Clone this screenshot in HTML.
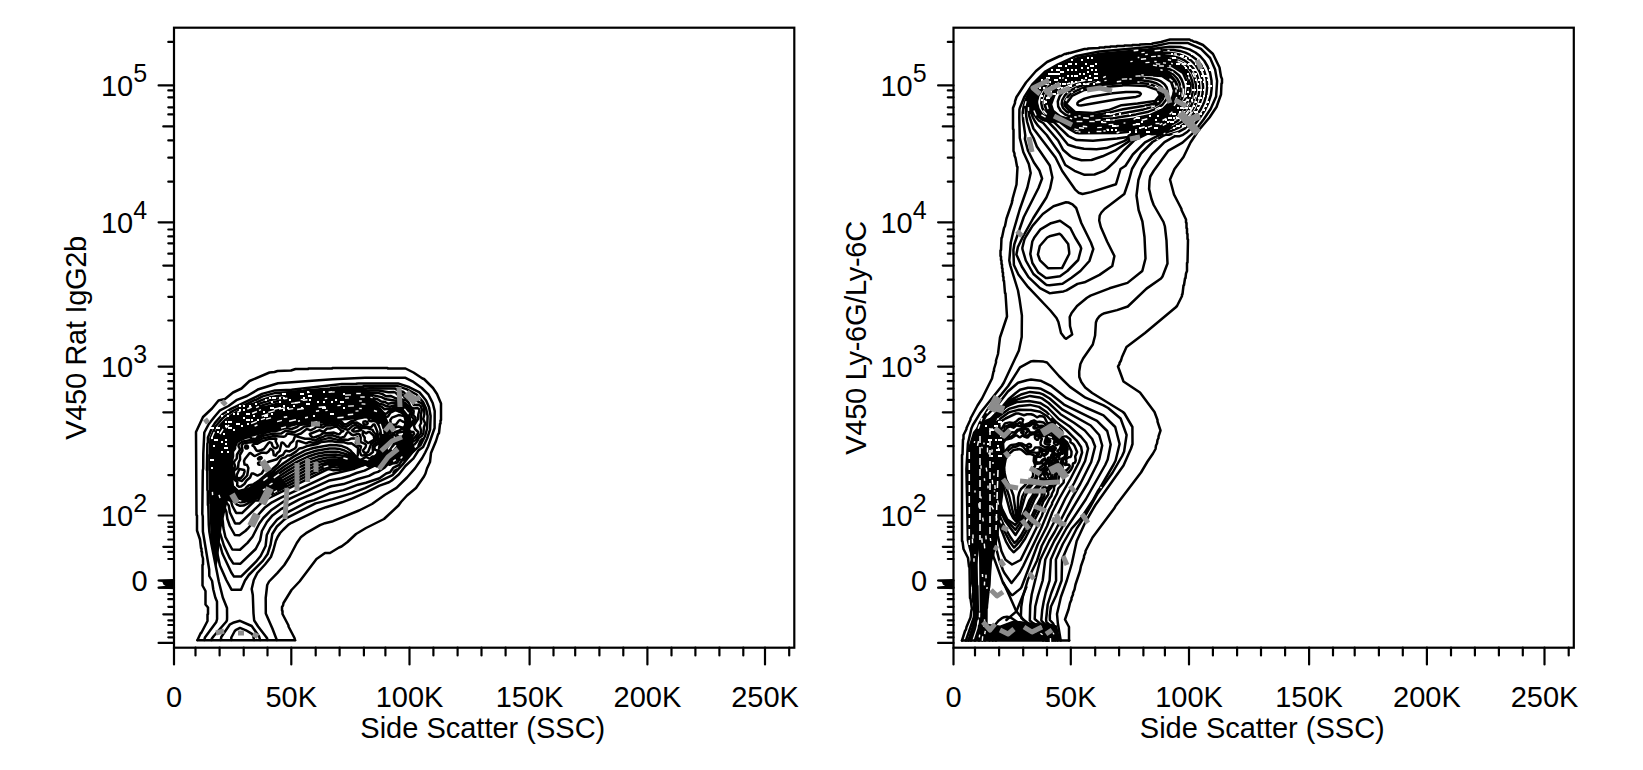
<!DOCTYPE html>
<html><head><meta charset="utf-8"><title>Flow cytometry contour plots</title>
<style>
html,body{margin:0;padding:0;background:#fff;}
body{width:1643px;height:770px;overflow:hidden;}
svg{display:block;}
.t text{font-family:"Liberation Sans",sans-serif;font-size:29px;fill:#000;}
.t text.sup{font-size:25px;}
.c path{fill:none;stroke:#000;stroke-width:2.5;stroke-linejoin:round;stroke-linecap:round;}
.g path{fill:none;stroke:#8c8c8c;stroke-width:5;stroke-linecap:butt;stroke-linejoin:round;}
.wd path{fill:none;stroke:#fff;stroke-width:1.5;stroke-dasharray:7 4;}
.wdot path{fill:none;stroke:#fff;stroke-width:2;stroke-linecap:butt;}
.w path{fill:none;stroke:#fff;stroke-width:1.4;stroke-linecap:butt;}
</style></head><body>
<svg width="1643" height="770" viewBox="0 0 1643 770">
<rect width="1643" height="770" fill="#fff"/>
<g id="left">
<path d="M250.5 503.1 L248.5 503.1 L242.5 500.8 L239.5 500.8 L233.0 502.2 L230.5 500.4 L227.0 498.9 L211.5 498.2 L210.3 497.0 L209.3 456.0 L210.4 440.5 L212.1 438.5 L212.4 435.0 L214.0 431.8 L218.5 429.2 L222.5 422.8 L226.0 421.1 L227.7 419.5 L230.3 414.5 L234.0 412.6 L238.5 408.9 L251.5 402.8 L256.5 402.9 L261.5 405.6 L264.0 406.2 L271.0 406.2 L276.5 404.6 L280.5 402.2 L283.6 398.5 L284.1 394.5 L283.5 393.4 L280.9 392.5 L282.0 392.3 L326.5 388.3 L351.5 387.2 L353.5 386.3 L363.5 386.9 L369.7 391.5 L374.1 398.0 L377.6 404.5 L380.9 415.5 L384.9 424.5 L387.3 427.0 L390.1 428.5 L390.7 430.0 L390.6 432.5 L388.4 435.5 L387.8 440.0 L389.8 444.0 L393.0 445.7 L395.0 444.7 L396.3 442.5 L401.7 437.5 L403.1 435.5 L404.7 427.0 L404.7 421.5 L403.6 416.5 L401.0 413.4 L395.4 411.5 L394.8 410.0 L395.4 408.0 L398.0 405.9 L401.5 405.8 L404.5 406.9 L407.1 409.5 L410.1 415.5 L410.7 418.0 L410.3 429.5 L413.1 437.0 L413.3 443.5 L414.6 447.0 L414.6 449.0 L404.0 460.1 L402.5 460.7 L397.0 460.4 L382.5 467.1 L379.5 465.9 L377.0 465.8 L369.5 468.2 L366.0 465.8 L349.5 469.7 L341.0 470.2 L339.3 469.0 L337.2 466.0 L335.5 465.3 L330.5 468.1 L327.5 468.4 L323.0 469.7 L321.4 469.5 L321.4 466.5 L322.5 464.3 L325.0 461.9 L327.5 460.8 L335.5 461.1 L343.5 455.4 L350.0 452.4 L352.5 451.8 L354.0 452.4 L359.0 458.6 L367.5 461.2 L371.2 459.0 L375.7 455.0 L377.1 452.0 L380.2 438.0 L379.1 429.5 L377.6 424.5 L376.0 422.3 L372.0 419.9 L366.5 417.8 L363.0 417.8 L347.0 420.2 L321.5 421.8 L299.0 424.8 L245.5 438.4 L239.0 441.4 L236.9 443.5 L233.4 451.5 L231.8 467.5 L232.9 483.0 L233.9 486.0 L236.0 488.6 L238.5 490.2 L241.5 490.2 L245.5 489.1 L256.5 482.6 L269.0 473.4 L274.5 470.3 L287.1 485.5 L285.7 487.5 L280.5 490.6 L263.5 499.6 L259.5 498.9 L257.0 499.4 L250.5 503.1 Z M209.5 488.0 L231.0 488.0 L226.0 508.0 L221.5 528.0 L219.5 545.0 L218.0 560.0 L216.3 567.0 L213.8 556.0 L210.6 540.0 L209.6 512.0 Z" fill="#000" fill-rule="nonzero"/>
<g class="c">
<path d="M197.5 640.0 L200.5 633.5 L201.5 632.5 L207.5 621.0 L207.5 614.5 L208.0 614.0 L208.0 607.5 L205.5 604.5 L205.5 591.0 L202.5 585.5 L202.5 565.0 L203.0 564.5 L203.0 558.5 L202.0 555.0 L202.0 552.0 L201.5 551.5 L201.5 548.5 L201.0 548.0 L200.0 539.5 L197.0 530.5 L197.0 515.5 L196.5 515.0 L196.0 432.0 L203.0 417.0 L212.0 408.5 L218.5 400.5 L225.0 399.0 L233.0 392.5 L241.5 388.5 L249.5 381.0 L269.5 372.5 L274.5 372.0 L277.5 371.0 L291.0 370.5 L295.5 369.0 L308.0 369.0 L308.5 368.5 L332.0 368.5 L332.5 368.0 L387.5 368.0 L388.0 368.5 L405.5 368.5 L413.5 372.5 L422.5 378.5 L424.0 379.0 L433.0 388.0 L437.0 394.0 L441.0 403.5 L441.0 420.0 L440.5 420.5 L440.5 423.5 L440.0 424.0 L439.0 433.0 L438.0 434.5 L436.0 441.0 L431.0 453.0 L430.0 462.0 L427.0 468.5 L425.5 473.5 L424.0 476.5 L416.0 488.0 L407.0 495.5 L401.0 502.0 L398.5 505.5 L384.0 519.0 L366.0 528.0 L356.0 534.0 L347.5 542.0 L341.5 546.5 L339.0 547.5 L330.0 553.0 L325.0 553.0 L316.5 559.0 L299.5 581.5 L291.5 590.0 L283.5 603.0 L283.0 605.5 L282.0 607.0 L282.0 610.5 L282.5 611.0 L282.5 614.0 L288.5 625.5 L288.5 626.5 L294.5 638.0 L295.0 640.0"/>
<path d="M204.4 640.0 L204.9 637.5 L216.3 622.0 L217.1 619.0 L217.0 601.5 L215.3 597.5 L213.3 589.5 L212.1 581.0 L209.3 576.0 L209.2 569.5 L202.9 531.5 L202.8 516.5 L202.3 514.0 L202.8 470.5 L203.2 468.5 L203.3 453.5 L204.3 432.5 L208.8 424.0 L214.5 416.7 L220.0 410.3 L228.5 406.0 L237.0 399.8 L247.0 396.0 L258.5 389.2 L278.0 383.2 L332.5 379.2 L365.0 377.7 L405.5 377.8 L412.5 381.3 L421.8 388.0 L428.5 394.7 L432.7 403.0 L434.7 411.0 L434.6 428.0 L428.1 446.5 L425.2 452.5 L422.2 458.0 L415.0 468.4 L407.0 477.5 L396.5 487.9 L385.0 494.8 L372.0 504.0 L359.0 510.5 L333.0 521.2 L325.0 523.2 L320.0 525.1 L306.0 533.2 L301.0 536.9 L296.8 543.0 L289.7 556.5 L284.3 565.0 L277.5 572.9 L269.1 581.5 L267.2 585.0 L265.7 598.0 L265.8 613.5 L272.4 628.5 L276.8 640.0"/>
<path d="M211.4 640.0 L211.9 638.5 L214.0 635.8 L226.4 621.5 L227.0 620.0 L227.1 617.0 L227.0 608.0 L222.8 597.5 L218.8 581.5 L211.3 543.5 L209.3 531.5 L208.8 525.0 L208.3 506.0 L207.9 505.0 L207.8 491.0 L207.4 490.0 L207.3 471.0 L206.9 470.0 L207.4 443.5 L207.9 442.5 L207.9 437.5 L211.9 428.0 L215.0 422.8 L222.8 414.0 L231.0 408.9 L262.0 393.9 L275.0 390.4 L291.5 389.7 L342.0 383.9 L356.0 383.8 L358.5 383.4 L398.0 383.4 L409.5 387.3 L419.5 392.4 L426.1 400.5 L429.1 407.5 L430.6 416.0 L430.1 429.5 L427.1 438.5 L423.1 447.0 L418.4 450.5 L413.5 458.3 L405.4 466.0 L399.0 474.3 L391.8 480.5 L389.0 482.2 L379.5 485.6 L366.0 492.4 L352.5 498.3 L342.0 502.3 L326.0 507.2 L318.0 510.2 L291.5 522.8 L288.5 524.6 L283.4 529.5 L280.1 533.0 L277.6 537.0 L275.8 541.0 L273.4 550.0 L270.9 557.0 L265.0 564.5 L257.3 573.0 L253.8 580.0 L251.7 589.0 L252.8 595.0 L253.5 613.5 L254.2 620.5 L258.1 626.5 L266.2 637.0 L267.2 638.5 L267.2 640.0"/>
<path d="M241.0 589.7 L231.5 589.7 L226.3 580.0 L219.9 565.5 L217.8 555.5 L214.4 545.0 L212.4 531.5 L210.9 504.5 L210.4 503.5 L209.9 471.0 L209.4 470.0 L209.4 455.0 L209.9 454.0 L210.4 438.5 L215.4 426.5 L222.0 418.9 L224.5 416.4 L233.0 410.9 L255.0 399.9 L256.0 399.9 L262.5 396.4 L275.5 392.9 L292.5 391.9 L293.0 391.5 L303.5 390.9 L304.0 390.4 L330.5 388.4 L331.0 387.9 L341.0 387.3 L341.5 386.9 L363.0 386.4 L364.0 385.9 L397.0 385.9 L407.0 389.4 L416.6 394.5 L423.1 402.0 L426.1 408.5 L427.6 416.0 L427.1 428.5 L425.1 436.0 L420.5 445.1 L412.7 452.0 L402.5 464.6 L392.5 475.1 L365.0 488.1 L352.0 493.1 L332.5 499.1 L315.5 503.4 L287.0 517.8 L283.5 520.3 L276.9 526.5 L272.3 534.0 L270.6 544.5 L267.6 554.0 L263.0 560.6 L248.8 575.0 L245.0 580.5 L241.0 589.7 Z"/>
<path d="M418.5 445.5 L420.3 444.0 L422.5 438.9 L420.4 441.0 L418.5 445.5 Z"/>
<path d="M404.7 460.5 L409.0 456.0 L408.7 455.5 L412.5 452.0 L414.4 449.0 L412.0 447.9 L410.3 448.5 L409.5 453.5 L405.0 459.0 L404.2 460.5 L404.7 460.5 Z"/>
<path d="M393.5 472.5 L394.5 471.7 L396.6 469.5 L394.8 470.5 L393.5 472.5 Z"/>
<path d="M220.8 640.0 L221.3 637.0 L230.0 624.3 L233.0 622.8 L240.0 620.8 L251.7 626.0 L259.1 636.5 L260.1 640.0"/>
<path d="M241.0 576.6 L234.0 576.6 L231.3 572.5 L222.4 553.5 L220.2 545.5 L218.4 542.0 L216.1 529.0 L211.8 486.0 L211.1 463.5 L211.9 447.0 L213.2 439.0 L216.4 431.0 L219.5 425.9 L224.9 420.0 L233.5 413.8 L243.5 408.5 L261.5 400.1 L270.5 397.3 L281.5 395.2 L338.0 389.8 L370.0 388.2 L395.0 388.6 L399.0 390.8 L403.5 392.0 L407.5 396.1 L413.5 397.3 L416.5 400.7 L422.0 403.7 L424.1 408.0 L424.4 414.0 L423.2 419.0 L425.2 423.5 L423.9 427.5 L423.4 433.5 L422.0 435.7 L418.9 438.0 L417.1 441.5 L414.5 444.3 L410.5 446.0 L408.2 448.0 L407.0 452.8 L399.0 465.0 L393.5 467.6 L390.0 472.3 L386.2 473.5 L379.5 478.3 L366.0 482.7 L358.0 484.7 L343.5 490.1 L329.5 493.3 L314.0 500.1 L306.5 502.3 L285.0 513.7 L277.0 519.7 L270.3 528.0 L266.8 535.0 L265.6 546.0 L260.6 556.0 L256.0 561.7 L241.0 576.6 Z"/>
<path d="M231.3 640.0 L231.3 637.5 L234.8 631.0 L236.0 629.8 L240.0 627.9 L246.0 630.3 L252.0 633.9 L253.1 635.5 L254.1 640.0"/>
<path d="M240.5 563.7 L233.5 563.6 L233.0 563.2 L229.4 557.5 L223.9 545.5 L219.9 532.5 L218.1 512.0 L213.6 485.5 L212.7 461.0 L214.6 442.5 L216.4 436.5 L219.4 430.5 L223.0 425.6 L227.5 421.0 L235.5 415.4 L246.5 409.6 L261.0 403.1 L271.5 399.8 L279.0 398.2 L289.0 396.9 L342.0 391.8 L370.5 390.5 L378.5 390.6 L388.5 392.2 L394.0 392.1 L395.5 392.7 L398.0 395.0 L401.0 394.3 L402.5 394.6 L404.7 397.5 L409.8 399.5 L412.0 400.9 L414.0 405.1 L418.5 404.8 L420.7 406.0 L421.9 409.5 L420.7 416.0 L421.1 423.0 L419.7 425.5 L421.1 430.5 L420.8 433.5 L417.4 437.0 L415.8 440.0 L412.9 441.5 L405.8 448.5 L402.9 453.0 L401.2 457.0 L397.5 462.3 L396.0 463.1 L392.2 463.5 L389.5 464.8 L388.0 463.9 L384.8 467.5 L378.0 471.9 L374.5 472.9 L369.0 475.9 L358.0 479.0 L343.5 484.1 L331.5 486.3 L327.0 487.8 L299.5 499.3 L281.5 508.8 L272.5 515.4 L266.9 522.0 L261.9 531.0 L260.1 540.5 L255.7 549.0 L240.5 563.7 Z"/>
<path d="M240.0 549.7 L232.3 549.5 L225.4 537.0 L223.4 528.0 L222.8 521.0 L221.9 517.5 L221.8 511.5 L216.8 493.5 L214.9 480.5 L214.4 459.5 L215.3 449.5 L216.7 442.5 L218.8 436.5 L221.8 431.0 L225.7 426.0 L230.7 421.5 L239.0 416.0 L250.5 410.3 L263.0 405.1 L273.5 402.0 L282.5 400.2 L296.5 398.4 L343.5 394.0 L364.0 393.4 L369.5 392.6 L379.0 393.1 L382.5 394.1 L386.0 396.2 L390.5 395.9 L396.5 398.6 L401.0 399.1 L406.3 400.5 L408.6 402.5 L410.5 406.5 L411.5 407.6 L413.5 408.4 L417.5 408.1 L419.0 409.0 L419.4 410.5 L418.3 414.5 L418.0 419.0 L413.8 425.5 L415.0 429.0 L418.2 432.0 L417.9 433.5 L414.5 437.8 L412.0 439.8 L408.6 444.5 L402.9 449.0 L396.3 460.5 L387.5 463.1 L382.0 466.7 L378.6 467.0 L375.0 465.5 L364.5 470.6 L356.5 473.0 L350.0 475.7 L341.5 478.2 L329.5 480.4 L284.0 501.3 L271.0 510.3 L263.3 518.0 L259.3 523.5 L252.5 536.8 L247.5 542.9 L240.0 549.7 Z"/>
<path d="M239.5 535.2 L234.8 535.0 L229.8 526.0 L227.4 519.0 L226.3 511.5 L220.5 498.0 L218.5 491.9 L216.9 484.0 L216.1 474.0 L216.3 456.0 L217.4 447.5 L219.2 441.0 L221.6 435.5 L224.8 430.5 L229.0 425.9 L234.0 421.8 L242.0 416.9 L253.5 411.5 L265.0 407.1 L275.5 404.1 L286.0 402.1 L301.0 400.2 L344.5 396.2 L365.0 395.8 L371.0 394.8 L381.5 397.1 L386.0 399.3 L396.0 400.7 L400.5 400.6 L406.0 403.6 L409.5 407.9 L413.7 411.0 L413.3 415.0 L415.5 417.5 L415.5 420.0 L414.4 422.0 L409.1 428.0 L408.7 429.5 L409.5 431.1 L411.0 431.8 L413.4 432.0 L414.1 433.5 L407.8 444.0 L401.2 448.0 L397.6 452.0 L396.8 456.0 L394.5 459.0 L390.0 460.6 L382.5 464.6 L380.0 464.5 L378.0 463.6 L372.0 466.0 L369.5 466.5 L367.3 465.5 L367.1 464.5 L368.0 463.5 L367.5 463.5 L354.5 468.7 L329.5 474.8 L281.0 497.7 L272.0 502.3 L264.5 507.8 L254.9 518.5 L251.7 524.0 L248.5 527.8 L245.3 531.0 L239.5 535.2 Z"/>
<path d="M239.5 523.6 L235.5 523.6 L234.9 523.0 L229.9 512.5 L228.7 505.5 L224.1 499.5 L221.3 494.0 L218.5 483.5 L217.4 469.5 L218.3 453.0 L219.6 446.0 L221.5 440.2 L224.2 435.0 L227.5 430.5 L232.0 426.1 L237.0 422.4 L245.5 417.6 L256.5 412.8 L267.0 409.0 L277.5 406.2 L304.0 402.1 L344.0 398.5 L365.5 398.2 L370.5 397.4 L377.5 399.3 L381.0 401.4 L385.0 402.0 L388.0 403.8 L392.0 403.0 L395.5 403.1 L400.0 402.1 L405.5 405.2 L408.1 408.5 L411.3 411.0 L411.8 412.5 L411.6 416.5 L413.6 419.0 L413.8 420.0 L410.0 424.6 L407.9 428.5 L408.0 430.7 L410.5 435.0 L410.2 437.5 L406.5 443.9 L398.7 447.0 L395.9 451.0 L394.7 455.5 L392.5 457.6 L383.0 462.7 L377.5 463.1 L371.5 465.3 L369.0 465.1 L368.2 463.5 L367.5 463.4 L355.5 466.9 L340.0 469.7 L333.5 470.2 L329.0 469.0 L327.5 469.4 L264.0 500.4 L239.5 523.6 Z"/>
<path d="M242.0 513.1 L236.5 513.1 L236.0 512.7 L232.4 506.0 L231.0 501.2 L227.5 499.4 L223.8 494.5 L221.8 490.0 L220.4 484.5 L219.0 470.0 L219.8 453.5 L221.1 447.0 L223.2 441.0 L225.8 436.0 L229.5 431.2 L234.0 427.1 L239.5 423.3 L248.0 418.8 L258.5 414.5 L269.0 410.9 L279.5 408.3 L305.5 404.2 L343.0 400.8 L370.0 400.5 L375.5 401.5 L379.5 404.0 L383.0 404.4 L386.0 406.1 L390.0 406.8 L399.5 404.0 L404.5 406.4 L407.5 410.0 L410.2 412.0 L409.4 416.5 L410.3 421.0 L406.9 429.0 L408.8 436.0 L407.1 439.0 L406.2 442.5 L404.7 443.5 L397.5 445.6 L392.5 454.5 L383.1 461.0 L371.0 464.6 L369.5 464.5 L367.5 463.2 L353.0 466.1 L337.0 467.4 L329.5 466.7 L326.0 467.6 L305.0 477.1 L260.5 499.7 L258.0 500.5 L255.0 500.5 L242.0 513.1 Z"/>
<path d="M243.5 505.6 L240.0 505.8 L237.0 504.7 L232.0 499.5 L228.2 497.0 L226.0 494.4 L223.7 490.0 L222.1 485.0 L220.5 471.5 L220.5 462.5 L221.3 454.5 L222.5 448.0 L224.6 442.0 L227.3 437.0 L230.9 432.5 L235.0 428.8 L240.5 425.1 L248.0 421.2 L257.0 417.5 L276.5 411.4 L297.5 407.5 L326.5 404.3 L344.5 403.0 L363.5 402.4 L375.0 404.0 L381.5 406.8 L384.5 409.3 L387.5 408.7 L391.5 408.9 L396.0 406.1 L399.0 405.8 L403.5 407.9 L405.6 410.5 L406.3 412.5 L406.5 416.0 L408.2 421.0 L407.7 424.5 L406.1 429.0 L407.4 433.5 L407.3 435.5 L405.3 438.0 L404.0 441.5 L396.5 444.7 L390.1 454.0 L384.5 457.3 L381.6 460.0 L371.0 463.9 L367.5 463.1 L355.0 464.8 L330.0 464.7 L323.6 466.0 L303.5 474.8 L262.0 496.5 L255.0 498.4 L247.5 503.7 L243.5 505.6 Z"/>
<path d="M244.5 502.0 L240.5 502.3 L237.0 501.2 L230.5 496.5 L227.5 493.4 L225.3 489.5 L223.6 484.5 L222.0 471.5 L222.0 463.0 L222.8 455.0 L224.1 448.5 L226.0 443.0 L228.7 438.0 L232.0 433.9 L236.0 430.4 L241.5 426.8 L257.0 419.8 L276.5 413.9 L296.5 410.0 L322.5 406.9 L343.0 405.3 L362.0 404.5 L378.0 407.6 L380.0 408.9 L383.5 412.9 L385.5 413.9 L386.5 413.6 L389.0 411.1 L393.5 409.8 L396.0 407.8 L397.5 407.2 L399.0 407.6 L400.8 409.5 L404.0 411.5 L404.9 418.0 L406.4 423.0 L405.1 429.0 L406.5 433.5 L406.3 435.0 L402.5 439.3 L395.1 444.5 L389.2 452.5 L384.0 455.6 L379.1 460.0 L370.5 463.4 L367.5 463.0 L356.5 463.9 L332.0 462.3 L327.0 462.7 L321.5 464.1 L313.5 467.0 L303.5 471.6 L264.0 493.2 L254.5 497.1 L244.5 502.0 Z"/>
<path d="M244.5 499.5 L240.5 499.7 L237.0 498.7 L231.9 495.5 L228.5 492.0 L226.3 488.0 L224.9 483.5 L223.4 470.5 L224.3 455.0 L225.5 449.0 L227.5 443.5 L230.0 439.0 L233.0 435.3 L237.0 431.8 L242.5 428.4 L258.0 421.8 L277.5 416.0 L297.0 412.2 L322.0 409.2 L360.5 406.5 L377.5 409.4 L380.0 411.1 L384.5 415.7 L387.0 417.0 L388.0 416.5 L390.5 412.5 L396.5 409.7 L397.5 409.7 L399.5 411.7 L402.7 413.0 L403.3 415.0 L403.0 415.9 L399.5 415.1 L398.0 415.3 L392.0 417.6 L390.3 420.0 L390.6 422.5 L392.0 425.1 L396.0 424.4 L399.0 420.5 L400.0 420.0 L403.0 421.8 L404.5 422.1 L405.1 423.0 L405.2 425.0 L404.0 427.3 L402.5 427.7 L398.5 426.5 L392.0 428.2 L391.5 430.0 L392.7 434.0 L392.5 438.5 L393.3 439.5 L394.5 439.9 L396.9 439.0 L396.9 437.5 L394.5 434.5 L394.2 433.0 L395.1 432.0 L399.0 430.7 L402.0 428.7 L404.0 429.4 L405.5 433.0 L405.4 434.5 L402.0 438.2 L393.7 444.0 L389.0 450.4 L385.0 452.9 L379.5 458.5 L377.4 460.0 L372.0 462.5 L369.5 463.0 L357.0 463.0 L344.0 460.6 L335.0 459.8 L327.5 460.2 L320.0 461.8 L312.0 464.6 L302.5 469.0 L263.0 491.4 L248.5 498.2 L244.5 499.5 Z"/>
<path d="M244.0 497.5 L240.0 497.6 L236.0 496.3 L232.0 493.6 L229.3 490.5 L227.3 486.5 L226.0 482.0 L224.8 468.5 L226.0 453.5 L227.4 448.0 L229.4 443.0 L231.8 439.0 L235.0 435.6 L239.0 432.6 L244.0 429.7 L253.0 425.9 L265.5 421.7 L278.0 418.3 L291.0 415.5 L318.5 411.7 L358.0 408.6 L373.5 410.2 L378.5 411.7 L380.5 413.1 L385.6 418.5 L387.1 422.0 L389.6 425.0 L390.1 426.5 L389.5 429.5 L391.0 435.5 L390.9 437.5 L390.0 439.2 L386.5 440.9 L385.7 442.5 L387.0 443.7 L390.3 444.0 L390.0 446.5 L388.5 448.3 L385.0 450.5 L378.5 458.2 L372.8 461.5 L369.0 462.7 L358.5 462.4 L344.0 458.4 L335.0 457.2 L327.0 457.6 L319.0 459.2 L310.5 462.1 L301.0 466.5 L289.5 472.9 L261.5 490.0 L249.5 495.8 L244.0 497.5 Z"/>
<path d="M400.5 437.5 L399.1 437.0 L397.5 435.5 L396.9 433.5 L398.5 432.5 L403.5 431.5 L404.4 433.0 L404.4 434.0 L403.0 436.1 L400.5 437.5 Z"/>
<path d="M244.5 495.6 L240.5 495.9 L237.0 495.1 L233.5 493.0 L230.6 490.0 L228.9 487.0 L227.6 483.0 L226.2 471.5 L227.0 456.5 L228.0 451.0 L229.6 446.0 L231.6 442.0 L234.1 438.5 L237.5 435.6 L242.0 432.7 L257.0 426.7 L280.0 420.2 L299.5 416.3 L324.0 413.4 L358.0 410.8 L366.0 410.8 L373.0 411.9 L379.0 413.5 L384.7 419.5 L387.5 426.0 L387.1 431.0 L389.3 436.5 L388.6 438.0 L385.5 440.1 L384.3 442.0 L384.8 444.0 L386.8 446.5 L384.0 449.0 L381.9 453.0 L378.1 457.5 L372.5 461.0 L368.0 462.5 L358.5 461.8 L345.0 456.3 L336.0 454.6 L327.0 454.8 L317.5 456.6 L308.5 459.7 L298.5 464.5 L287.0 471.2 L261.0 488.1 L250.5 493.5 L244.5 495.6 Z"/>
<path d="M244.0 494.0 L240.0 494.3 L237.0 493.7 L234.0 491.8 L231.5 489.0 L229.8 486.0 L228.9 482.5 L227.6 471.0 L228.5 456.0 L230.9 446.5 L232.8 442.5 L235.0 439.6 L242.0 434.6 L256.5 429.0 L280.5 422.4 L299.0 418.6 L320.0 416.0 L367.0 412.4 L371.5 413.2 L375.5 415.7 L379.0 415.5 L383.5 419.9 L385.4 428.0 L385.7 434.0 L385.2 438.0 L383.2 441.5 L383.3 446.0 L382.2 448.0 L381.3 452.0 L378.5 456.0 L376.5 457.9 L371.3 461.0 L368.0 462.4 L358.5 461.1 L355.8 460.0 L346.5 454.3 L337.5 451.8 L328.0 451.7 L316.5 453.8 L307.0 457.0 L297.0 461.9 L285.5 468.9 L259.9 486.5 L250.0 491.9 L244.0 494.0 Z"/>
<path d="M240.0 493.0 L237.5 492.6 L235.5 491.5 L233.0 489.1 L231.3 486.5 L229.5 478.0 L228.9 467.5 L230.1 454.0 L232.5 446.0 L236.0 440.3 L242.5 436.1 L257.5 430.9 L284.0 423.9 L300.5 420.6 L322.5 417.9 L347.5 416.2 L368.0 414.0 L371.0 414.7 L374.5 417.6 L379.0 418.0 L382.3 422.5 L382.8 426.5 L383.9 429.5 L384.0 432.5 L382.6 436.5 L381.8 444.0 L380.7 447.5 L380.4 451.5 L377.0 456.5 L368.6 462.0 L367.5 462.2 L358.0 460.3 L348.5 452.5 L344.5 450.5 L340.0 449.1 L335.0 448.5 L329.5 448.5 L316.0 450.7 L306.5 453.7 L297.0 458.3 L284.5 466.2 L264.6 481.0 L256.3 486.5 L247.0 491.6 L240.0 493.0 Z"/>
<path d="M241.5 491.6 L237.4 491.5 L232.4 486.5 L230.8 478.0 L230.2 468.5 L231.3 455.0 L232.0 451.0 L233.7 446.5 L236.5 441.3 L243.0 437.6 L249.5 435.2 L267.5 430.3 L298.5 423.1 L323.5 419.9 L352.5 417.9 L366.0 415.5 L369.5 416.0 L373.0 418.8 L377.0 420.3 L380.7 425.0 L382.5 429.1 L382.8 431.5 L382.5 433.0 L380.5 436.0 L380.8 442.0 L379.2 447.5 L379.0 452.0 L376.5 455.9 L368.3 462.0 L358.0 459.6 L350.5 450.5 L346.5 447.8 L342.0 446.1 L336.5 445.2 L330.5 445.1 L313.5 448.0 L305.0 450.6 L294.0 456.4 L282.0 464.4 L258.0 483.3 L247.5 489.7 L241.5 491.6 Z"/>
<path d="M239.0 491.0 L237.9 491.0 L232.8 486.0 L231.3 471.5 L232.3 466.5 L231.9 461.5 L233.1 456.0 L232.9 451.5 L235.1 448.5 L235.1 446.5 L237.0 442.2 L241.0 439.8 L245.5 437.9 L249.5 437.0 L251.8 438.5 L255.0 439.1 L256.2 438.5 L258.2 436.0 L261.0 435.2 L265.5 432.8 L271.5 431.3 L275.0 431.2 L285.5 428.0 L291.6 429.0 L297.0 427.0 L299.4 425.0 L302.5 424.4 L323.0 421.9 L328.5 422.0 L338.5 420.7 L341.0 421.1 L343.5 423.9 L346.0 424.5 L351.0 421.3 L354.2 420.5 L357.0 418.9 L365.5 417.0 L367.5 417.4 L369.5 418.9 L368.8 420.0 L369.5 421.0 L371.5 421.3 L373.5 420.8 L376.5 421.7 L381.1 429.0 L381.1 432.0 L378.4 435.0 L377.8 436.5 L379.6 440.5 L379.0 443.5 L375.5 445.3 L374.3 447.5 L375.0 449.9 L377.5 450.5 L377.7 451.0 L377.3 454.0 L375.0 456.2 L372.5 456.6 L370.0 458.4 L369.0 458.5 L367.0 457.3 L365.5 457.1 L361.0 459.9 L358.0 459.1 L357.0 457.0 L357.8 455.0 L358.1 448.0 L351.5 443.3 L347.5 443.4 L344.0 442.2 L336.5 442.0 L331.0 441.1 L321.5 441.9 L317.0 444.1 L307.0 446.1 L302.0 448.1 L299.5 448.4 L296.0 451.6 L291.0 454.9 L289.5 455.5 L287.5 455.6 L285.0 457.4 L281.5 458.6 L277.7 464.5 L259.8 480.0 L253.0 484.6 L249.0 485.2 L246.7 487.0 L244.8 489.5 L239.0 491.0 Z"/>
<path d="M366.8 424.5 L367.7 423.5 L367.4 422.0 L365.5 421.3 L363.5 421.7 L363.3 423.0 L364.0 424.1 L365.0 424.6 L366.8 424.5 Z"/>
<path d="M241.0 486.6 L239.0 486.8 L237.2 485.5 L237.3 482.0 L234.0 479.2 L233.0 477.5 L232.5 471.5 L233.0 469.5 L235.2 466.5 L234.0 463.0 L234.2 461.5 L236.7 458.5 L237.0 454.5 L239.9 450.0 L239.7 448.5 L238.5 446.3 L238.5 445.0 L239.7 443.5 L243.0 441.4 L249.5 440.2 L256.0 440.6 L259.5 437.5 L264.0 435.6 L272.5 433.7 L281.0 433.6 L285.5 430.8 L294.5 432.2 L300.0 429.5 L304.6 426.5 L309.5 425.9 L313.5 424.3 L321.5 424.7 L325.0 423.9 L338.5 422.7 L340.0 423.2 L343.0 426.0 L346.0 426.7 L347.5 426.2 L352.0 423.1 L356.5 422.4 L363.0 426.1 L370.0 427.4 L371.3 427.0 L373.5 424.4 L374.5 424.5 L377.5 432.0 L376.6 437.0 L377.9 441.0 L377.0 442.4 L373.4 444.5 L372.6 447.5 L373.0 452.0 L369.5 454.8 L362.0 455.6 L361.0 454.9 L359.8 451.5 L361.0 446.5 L357.4 445.0 L355.9 443.0 L356.0 441.5 L358.0 439.0 L358.1 438.0 L357.5 437.3 L354.5 438.5 L351.0 438.6 L347.5 440.1 L344.0 439.4 L339.0 440.1 L331.0 438.2 L328.5 438.1 L320.5 440.1 L315.5 442.7 L313.0 442.8 L309.0 442.1 L306.0 443.4 L299.0 441.0 L297.5 440.9 L296.7 442.0 L296.3 446.5 L294.9 448.5 L289.5 451.4 L286.0 450.8 L285.0 451.6 L283.0 454.9 L279.5 456.4 L277.0 459.2 L268.5 461.7 L264.5 464.3 L263.4 466.5 L264.1 469.5 L261.7 473.5 L257.5 475.6 L253.5 473.6 L251.7 473.5 L250.1 477.5 L246.6 480.5 L244.4 484.0 L241.0 486.6 Z"/>
<path d="M260.1 459.5 L261.7 458.0 L261.0 456.9 L259.5 457.2 L258.0 458.5 L258.4 459.5 L260.1 459.5 Z"/>
<path d="M242.0 481.0 L238.0 479.8 L236.0 478.5 L234.7 476.5 L233.8 472.0 L234.5 470.1 L237.2 468.5 L238.1 467.0 L238.6 462.5 L240.1 459.5 L239.9 455.0 L242.5 450.5 L241.7 445.5 L242.8 444.0 L244.5 443.0 L257.0 441.7 L260.5 439.4 L263.5 438.2 L274.0 436.0 L283.5 436.8 L285.5 436.1 L286.9 434.0 L288.0 433.5 L296.0 435.1 L301.0 433.5 L307.0 428.8 L310.5 430.3 L315.2 428.0 L316.0 426.6 L322.5 427.6 L326.0 425.5 L330.5 425.4 L335.5 424.5 L338.5 424.9 L342.0 427.9 L347.5 429.7 L349.0 429.2 L352.5 425.9 L354.5 425.3 L357.0 425.3 L362.5 428.1 L366.5 427.9 L372.5 429.9 L373.5 431.9 L375.5 434.0 L376.0 440.5 L371.3 443.5 L368.1 452.0 L366.0 453.2 L364.1 452.5 L362.9 450.5 L365.5 447.3 L366.0 445.0 L365.0 443.8 L360.5 442.0 L360.7 437.5 L359.6 434.5 L358.5 433.7 L353.0 435.2 L351.5 434.5 L349.5 432.6 L348.0 432.1 L347.0 432.6 L344.5 436.6 L340.5 438.0 L332.5 435.2 L326.0 435.4 L323.0 437.0 L319.0 438.2 L315.0 440.6 L309.5 438.7 L305.0 438.7 L295.5 436.1 L294.7 437.0 L293.2 441.0 L290.5 443.2 L288.5 446.6 L286.5 446.5 L283.5 443.0 L282.5 442.5 L281.5 442.7 L279.7 451.0 L277.3 453.0 L275.5 455.7 L273.7 455.0 L273.2 451.0 L272.0 449.6 L270.5 448.8 L268.5 451.5 L266.5 453.1 L261.5 452.6 L255.0 456.0 L254.0 455.8 L250.5 453.0 L249.5 453.2 L244.9 459.0 L244.0 461.0 L244.5 464.5 L247.0 465.0 L248.4 468.0 L247.2 475.5 L242.0 481.0 Z"/>
<path d="M260.0 464.7 L258.5 464.5 L258.0 463.0 L259.0 462.4 L260.0 462.6 L260.5 463.5 L260.0 464.7 Z"/>
<path d="M315.5 437.0 L314.0 437.5 L312.5 437.2 L310.9 436.0 L309.7 434.0 L319.5 430.1 L323.5 432.0 L327.0 428.5 L330.5 428.4 L335.5 426.6 L337.5 427.0 L341.0 430.4 L343.4 431.0 L341.5 431.8 L339.6 434.0 L338.5 434.4 L333.5 432.5 L327.0 433.2 L323.5 432.9 L320.5 435.1 L315.5 437.0 Z"/>
<path d="M356.0 431.5 L353.5 431.5 L352.0 430.5 L355.0 427.9 L357.0 427.2 L358.5 427.7 L361.3 430.0 L356.0 431.5 Z"/>
<path d="M369.0 442.6 L368.0 443.0 L364.7 440.5 L364.7 437.5 L362.6 434.5 L363.0 431.3 L366.0 433.3 L368.5 431.9 L369.5 431.9 L373.6 435.5 L374.4 439.5 L369.0 442.6 Z"/>
<path d="M260.0 450.6 L258.0 451.0 L256.5 450.5 L254.0 446.5 L252.5 445.7 L252.7 445.0 L254.5 443.5 L257.5 443.7 L261.5 441.4 L269.5 438.9 L275.0 438.5 L276.3 439.0 L275.6 441.0 L277.9 446.0 L277.0 447.7 L275.5 448.3 L274.0 447.8 L272.5 446.0 L271.5 442.9 L269.5 442.3 L268.4 443.0 L263.9 449.0 L260.0 450.6 Z"/>
<path d="M247.0 448.6 L246.0 448.6 L245.0 447.5 L245.5 445.5 L246.9 445.5 L247.9 446.5 L248.0 447.8 L247.0 448.6 Z"/>
<path d="M238.5 478.5 L237.0 477.5 L236.7 475.0 L239.5 469.0 L244.2 470.0 L244.6 471.5 L243.5 475.0 L241.0 477.8 L238.5 478.5 Z"/>
<path d="M197.5 640.3 L295.0 640.3"/>
</g>
<g class="wdot"><path d="M247.0 424.0 L249.0 424.0"/><path d="M246.0 414.0 L250.0 414.0"/><path d="M239.0 410.0 L241.0 410.0"/><path d="M228.0 422.0 L232.0 422.0"/><path d="M214.0 440.0 L218.0 440.0"/><path d="M210.0 428.0 L214.0 428.0"/><path d="M225.0 440.0 L227.0 440.0"/><path d="M223.0 434.0 L225.0 434.0"/><path d="M236.0 424.0 L240.0 424.0"/><path d="M227.0 416.0 L229.0 416.0"/><path d="M221.0 442.0 L223.0 442.0"/><path d="M283.0 410.0 L285.0 410.0"/><path d="M217.0 432.0 L219.0 432.0"/><path d="M287.0 408.0 L289.0 408.0"/><path d="M251.0 420.0 L253.0 420.0"/><path d="M255.0 404.0 L257.0 404.0"/><path d="M243.0 410.0 L245.0 410.0"/><path d="M243.0 406.0 L245.0 406.0"/><path d="M233.0 430.0 L235.0 430.0"/><path d="M227.0 412.0 L229.0 412.0"/><path d="M264.0 416.0 L268.0 416.0"/><path d="M239.0 406.0 L241.0 406.0"/><path d="M272.0 398.0 L276.0 398.0"/><path d="M225.0 422.0 L227.0 422.0"/><path d="M225.0 426.0 L227.0 426.0"/><path d="M253.0 416.0 L255.0 416.0"/><path d="M233.0 414.0 L235.0 414.0"/><path d="M283.0 406.0 L285.0 406.0"/><path d="M271.0 402.0 L273.0 402.0"/><path d="M243.0 418.0 L245.0 418.0"/><path d="M283.0 398.0 L285.0 398.0"/><path d="M293.0 406.0 L295.0 406.0"/><path d="M263.0 412.0 L265.0 412.0"/><path d="M224.0 448.0 L228.0 448.0"/><path d="M279.0 408.0 L281.0 408.0"/><path d="M228.0 428.0 L232.0 428.0"/><path d="M265.0 400.0 L267.0 400.0"/><path d="M211.0 468.0 L213.0 468.0"/><path d="M271.0 414.0 L273.0 414.0"/><path d="M257.0 420.0 L259.0 420.0"/><path d="M289.0 400.0 L291.0 400.0"/><path d="M221.0 452.0 L223.0 452.0"/><path d="M213.0 446.0 L215.0 446.0"/><path d="M282.0 394.0 L286.0 394.0"/><path d="M216.0 428.0 L220.0 428.0"/><path d="M225.0 444.0 L227.0 444.0"/><path d="M269.0 398.0 L271.0 398.0"/><path d="M221.0 416.0 L223.0 416.0"/><path d="M279.0 398.0 L281.0 398.0"/><path d="M237.0 414.0 L239.0 414.0"/><path d="M210.0 460.0 L214.0 460.0"/><path d="M249.0 406.0 L251.0 406.0"/><path d="M211.0 438.0 L213.0 438.0"/><path d="M227.0 452.0 L229.0 452.0"/><path d="M241.0 426.0 L243.0 426.0"/><path d="M279.0 402.0 L281.0 402.0"/><path d="M246.0 420.0 L250.0 420.0"/><path d="M270.0 408.0 L274.0 408.0"/><path d="M323.0 392.0 L325.0 392.0"/><path d="M309.0 400.0 L311.0 400.0"/><path d="M303.0 398.0 L305.0 398.0"/><path d="M301.0 408.0 L303.0 408.0"/><path d="M343.0 408.0 L345.0 408.0"/><path d="M335.0 400.0 L337.0 400.0"/><path d="M340.0 402.0 L344.0 402.0"/><path d="M306.0 404.0 L310.0 404.0"/><path d="M330.0 414.0 L334.0 414.0"/><path d="M308.0 396.0 L312.0 396.0"/><path d="M317.0 402.0 L319.0 402.0"/><path d="M323.0 402.0 L325.0 402.0"/><path d="M343.0 394.0 L345.0 394.0"/><path d="M331.0 402.0 L333.0 402.0"/><path d="M300.0 394.0 L304.0 394.0"/><path d="M307.0 392.0 L309.0 392.0"/><path d="M322.0 408.0 L326.0 408.0"/><path d="M313.0 416.0 L315.0 416.0"/></g>
<g class="w"><path d="M372.6 397.6 L370.4 397.4"/><path d="M348.9 397.9 L345.1 398.1"/><path d="M309.7 392.4 L307.3 392.6"/><path d="M350.9 394.9 L345.1 395.1"/><path d="M364.7 397.0 L360.3 397.0"/><path d="M327.2 398.4 L324.8 398.6"/><path d="M377.0 411.5 L374.0 410.5"/><path d="M303.3 399.4 L300.7 399.6"/><path d="M400.6 458.4 L402.4 456.6"/><path d="M286.0 426.9 L281.0 428.1"/><path d="M229.1 424.9 L225.9 428.1"/><path d="M300.0 420.8 L298.0 421.2"/><path d="M319.1 410.8 L315.9 411.2"/><path d="M256.9 421.4 L251.1 423.6"/><path d="M325.4 406.7 L318.6 407.3"/><path d="M388.1 449.3 L391.9 443.7"/><path d="M261.0 409.6 L259.0 410.4"/><path d="M381.8 429.1 L380.2 423.9"/><path d="M382.9 434.0 L382.1 429.0"/><path d="M307.4 399.7 L302.6 400.3"/><path d="M293.2 408.6 L287.8 409.4"/><path d="M280.2 407.8 L273.8 409.2"/><path d="M219.0 494.9 L220.0 498.1"/><path d="M273.8 477.9 L279.2 474.1"/><path d="M251.7 407.0 L247.3 409.0"/><path d="M303.9 408.5 L297.1 409.5"/><path d="M257.4 425.0 L254.6 426.0"/><path d="M323.7 467.2 L328.3 465.8"/><path d="M308.0 417.3 L305.0 417.7"/><path d="M392.7 454.2 L394.3 452.8"/><path d="M287.3 398.3 L283.7 398.7"/><path d="M393.2 461.4 L395.8 459.6"/><path d="M287.2 416.7 L283.8 417.3"/><path d="M274.7 410.6 L268.3 412.4"/><path d="M300.1 402.2 L294.9 402.8"/><path d="M269.5 484.9 L272.5 483.1"/><path d="M285.0 407.9 L279.0 409.1"/><path d="M353.2 414.3 L347.8 414.7"/><path d="M358.5 410.9 L355.5 411.1"/><path d="M343.6 417.3 L337.4 417.7"/><path d="M212.4 491.9 L212.6 495.1"/><path d="M268.7 496.6 L271.3 495.4"/><path d="M263.4 480.6 L267.6 477.4"/><path d="M408.6 414.1 L404.4 408.9"/><path d="M262.9 490.1 L265.1 488.9"/><path d="M295.9 419.8 L289.1 421.2"/><path d="M361.8 401.0 L359.2 401.0"/><path d="M353.9 405.9 L348.1 406.1"/><path d="M365.4 404.1 L361.6 403.9"/><path d="M240.6 410.7 L237.4 412.3"/><path d="M343.4 458.0 L347.6 459.0"/><path d="M392.0 449.7 L396.0 445.3"/><path d="M265.0 418.3 L261.0 419.7"/><path d="M360.8 393.5 L356.2 393.5"/><path d="M327.6 410.4 L325.4 410.6"/><path d="M268.3 413.9 L261.7 416.1"/><path d="M256.9 411.5 L252.1 413.5"/><path d="M258.9 406.4 L256.1 407.6"/><path d="M281.9 420.4 L277.1 421.6"/><path d="M273.9 492.3 L277.1 490.7"/><path d="M236.7 499.9 L241.3 501.1"/><path d="M297.9 402.6 L291.1 403.4"/><path d="M340.6 405.4 L337.4 405.6"/><path d="M334.7 391.9 L332.3 392.1"/><path d="M271.0 417.8 L266.0 419.2"/><path d="M361.8 408.5 L359.2 408.5"/><path d="M317.3 421.8 L311.7 423.2"/><path d="M214.3 432.0 L211.7 438.0"/><path d="M223.1 429.0 L219.9 434.0"/><path d="M332.4 391.8 L328.6 392.2"/></g>
<g class="g"><path d="M205.0 419.0 L208.0 423.0"/><path d="M222.0 401.0 L226.0 405.0"/><path d="M251.0 526.0 L257.0 514.0" style="stroke-width:8"/><path d="M262.0 504.0 L270.0 488.0" style="stroke-width:8"/><path d="M262.0 461.0 L269.0 471.0" style="stroke-width:7"/><path d="M232.0 494.0 L237.0 503.0" style="stroke-width:6"/><path d="M285.0 519.0 L287.0 488.0"/><path d="M297.0 491.0 L297.0 463.0"/><path d="M307.6 482.0 L307.6 459.0"/><path d="M316.0 472.0 L316.0 462.0"/><path d="M311.0 424.0 L320.0 424.0"/><path d="M399.0 387.0 L400.0 407.0"/><path d="M406.0 393.0 L416.0 402.0" style="stroke-width:8"/><path d="M412.0 401.0 L420.0 397.0"/><path d="M385.0 431.0 L390.0 425.0 L394.0 431.0"/><path d="M381.0 451.0 L392.0 441.0 L402.0 437.0"/><path d="M379.0 469.0 L388.0 457.0 L398.0 449.0"/><path d="M357.0 437.0 L358.0 445.0"/><path d="M216.0 633.0 L224.0 631.0"/><path d="M238.0 633.0 L244.0 633.0"/><path d="M253.0 634.0 L258.0 636.5"/></g>
<g stroke="#000" stroke-width="2.2" stroke-linecap="round" fill="none">
<rect x="174.0" y="27.7" width="620.3" height="620.0"/>
<line x1="158.6" y1="85.4" x2="174.0" y2="85.4"/>
<line x1="158.6" y1="222.3" x2="174.0" y2="222.3"/>
<line x1="158.6" y1="366.6" x2="174.0" y2="366.6"/>
<line x1="158.6" y1="515.5" x2="174.0" y2="515.5"/>
<line x1="158.6" y1="580.5" x2="174.0" y2="580.5"/>
<line x1="158.6" y1="587.7" x2="174.0" y2="587.7"/>
<line x1="158.6" y1="642.9" x2="174.0" y2="642.9"/>
<line x1="163.3" y1="126.4" x2="174.0" y2="126.4"/>
<line x1="163.3" y1="265.6" x2="174.0" y2="265.6"/>
<line x1="163.3" y1="412.3" x2="174.0" y2="412.3"/>
<line x1="163.3" y1="546.8" x2="174.0" y2="546.8"/>
<line x1="163.3" y1="614.3" x2="174.0" y2="614.3"/>
<line x1="168.3" y1="41.9" x2="174.0" y2="41.9"/>
<line x1="168.3" y1="90.4" x2="174.0" y2="90.4"/>
<line x1="168.3" y1="97.3" x2="174.0" y2="97.3"/>
<line x1="168.3" y1="107.3" x2="174.0" y2="107.3"/>
<line x1="168.3" y1="114.4" x2="174.0" y2="114.4"/>
<line x1="168.3" y1="140.4" x2="174.0" y2="140.4"/>
<line x1="168.3" y1="157.7" x2="174.0" y2="157.7"/>
<line x1="168.3" y1="181.7" x2="174.0" y2="181.7"/>
<line x1="168.3" y1="229.5" x2="174.0" y2="229.5"/>
<line x1="168.3" y1="236.4" x2="174.0" y2="236.4"/>
<line x1="168.3" y1="243.3" x2="174.0" y2="243.3"/>
<line x1="168.3" y1="253.7" x2="174.0" y2="253.7"/>
<line x1="168.3" y1="279.7" x2="174.0" y2="279.7"/>
<line x1="168.3" y1="296.8" x2="174.0" y2="296.8"/>
<line x1="168.3" y1="320.5" x2="174.0" y2="320.5"/>
<line x1="168.3" y1="373.8" x2="174.0" y2="373.8"/>
<line x1="168.3" y1="381.2" x2="174.0" y2="381.2"/>
<line x1="168.3" y1="388.7" x2="174.0" y2="388.7"/>
<line x1="168.3" y1="399.8" x2="174.0" y2="399.8"/>
<line x1="168.3" y1="427.0" x2="174.0" y2="427.0"/>
<line x1="168.3" y1="446.1" x2="174.0" y2="446.1"/>
<line x1="168.3" y1="475.1" x2="174.0" y2="475.1"/>
<line x1="168.3" y1="522.3" x2="174.0" y2="522.3"/>
<line x1="168.3" y1="526.8" x2="174.0" y2="526.8"/>
<line x1="168.3" y1="531.8" x2="174.0" y2="531.8"/>
<line x1="168.3" y1="539.5" x2="174.0" y2="539.5"/>
<line x1="168.3" y1="551.9" x2="174.0" y2="551.9"/>
<line x1="168.3" y1="559.0" x2="174.0" y2="559.0"/>
<line x1="168.3" y1="594.1" x2="174.0" y2="594.1"/>
<line x1="168.3" y1="599.2" x2="174.0" y2="599.2"/>
<line x1="168.3" y1="606.8" x2="174.0" y2="606.8"/>
<line x1="168.3" y1="620.3" x2="174.0" y2="620.3"/>
<line x1="168.3" y1="625.0" x2="174.0" y2="625.0"/>
<line x1="168.3" y1="632.7" x2="174.0" y2="632.7"/>
<line x1="168.3" y1="637.3" x2="174.0" y2="637.3"/>
<line x1="174.0" y1="647.7" x2="174.0" y2="664.5"/>
<line x1="195.5" y1="647.7" x2="195.5" y2="655.5"/>
<line x1="219.6" y1="647.7" x2="219.6" y2="655.5"/>
<line x1="243.7" y1="647.7" x2="243.7" y2="655.5"/>
<line x1="267.5" y1="647.7" x2="267.5" y2="655.5"/>
<line x1="291.3" y1="647.7" x2="291.3" y2="664.5"/>
<line x1="315.7" y1="647.7" x2="315.7" y2="655.5"/>
<line x1="339.6" y1="647.7" x2="339.6" y2="655.5"/>
<line x1="363.9" y1="647.7" x2="363.9" y2="655.5"/>
<line x1="385.4" y1="647.7" x2="385.4" y2="655.5"/>
<line x1="409.5" y1="647.7" x2="409.5" y2="664.5"/>
<line x1="433.4" y1="647.7" x2="433.4" y2="655.5"/>
<line x1="457.6" y1="647.7" x2="457.6" y2="655.5"/>
<line x1="481.5" y1="647.7" x2="481.5" y2="655.5"/>
<line x1="505.6" y1="647.7" x2="505.6" y2="655.5"/>
<line x1="529.6" y1="647.7" x2="529.6" y2="664.5"/>
<line x1="553.5" y1="647.7" x2="553.5" y2="655.5"/>
<line x1="575.2" y1="647.7" x2="575.2" y2="655.5"/>
<line x1="599.4" y1="647.7" x2="599.4" y2="655.5"/>
<line x1="623.3" y1="647.7" x2="623.3" y2="655.5"/>
<line x1="647.4" y1="647.7" x2="647.4" y2="664.5"/>
<line x1="671.5" y1="647.7" x2="671.5" y2="655.5"/>
<line x1="695.4" y1="647.7" x2="695.4" y2="655.5"/>
<line x1="719.4" y1="647.7" x2="719.4" y2="655.5"/>
<line x1="743.3" y1="647.7" x2="743.3" y2="655.5"/>
<line x1="765.0" y1="647.7" x2="765.0" y2="664.5"/>
<line x1="789.2" y1="647.7" x2="789.2" y2="655.5"/>
</g>
<path d="M158.6 580.5 L163 581.5 L164 584 L168 586 L158.6 587.7 L174 588.5 L174 579.8 Z" fill="#000" stroke="#000" stroke-width="1.5" stroke-linejoin="round"/>
<g class="t">
<text x="174.0" y="706.6" text-anchor="middle">0</text>
<text x="291.3" y="706.6" text-anchor="middle">50K</text>
<text x="409.5" y="706.6" text-anchor="middle">100K</text>
<text x="529.6" y="706.6" text-anchor="middle">150K</text>
<text x="647.4" y="706.6" text-anchor="middle">200K</text>
<text x="765.0" y="706.6" text-anchor="middle">250K</text>
<text x="482.8" y="737.6" text-anchor="middle">Side Scatter (SSC)</text>
<text x="133.2" y="96.2" text-anchor="end">10</text>
<text class="sup" x="133.2" y="82.0">5</text>
<text x="133.2" y="233.1" text-anchor="end">10</text>
<text class="sup" x="133.2" y="218.9">4</text>
<text x="133.2" y="377.4" text-anchor="end">10</text>
<text class="sup" x="133.2" y="363.2">3</text>
<text x="133.2" y="526.3" text-anchor="end">10</text>
<text class="sup" x="133.2" y="512.1">2</text>
<text x="147.6" y="590.9" text-anchor="end">0</text>
<text transform="translate(86.3,337.8) rotate(-90)" text-anchor="middle" textLength="204" lengthAdjust="spacing">V450 Rat IgG2b</text>
</g>
</g>
<g id="rightc">
<path d="M1130.5 142.1 L1129.5 142.1 L1125.9 139.0 L1126.3 138.0 L1130.1 135.5 L1130.7 132.5 L1130.0 131.4 L1126.5 130.9 L1114.0 132.2 L1082.5 132.2 L1073.0 130.1 L1067.5 127.6 L1059.0 122.4 L1050.0 122.7 L1046.5 120.9 L1042.5 121.1 L1039.0 118.4 L1030.5 114.1 L1023.4 107.5 L1025.9 98.5 L1034.5 84.3 L1044.8 74.0 L1057.5 66.3 L1076.0 58.4 L1086.5 55.9 L1102.0 53.3 L1133.5 50.3 L1145.0 49.7 L1158.5 47.8 L1161.5 47.9 L1163.4 52.0 L1166.0 55.2 L1175.7 61.0 L1180.3 66.0 L1185.2 69.0 L1187.1 72.0 L1187.0 76.9 L1180.5 70.3 L1176.5 67.9 L1170.0 65.8 L1166.9 67.0 L1167.4 69.5 L1168.9 72.0 L1175.6 80.0 L1179.1 88.5 L1180.2 93.0 L1180.3 99.0 L1181.2 102.0 L1180.3 107.0 L1181.6 108.0 L1181.6 111.0 L1179.5 113.6 L1175.0 114.9 L1173.4 116.0 L1171.1 128.5 L1166.0 134.1 L1158.5 136.7 L1154.5 133.4 L1150.0 132.9 L1142.0 135.9 L1130.5 142.1 Z M1119.2 121.0 L1131.0 119.7 L1144.5 116.6 L1152.0 114.1 L1162.2 109.0 L1171.0 100.7 L1173.1 96.0 L1174.2 90.0 L1173.1 85.5 L1171.5 82.3 L1166.0 77.9 L1161.0 75.9 L1155.0 75.3 L1142.0 75.3 L1139.5 75.9 L1138.4 77.5 L1138.4 79.5 L1140.6 82.5 L1140.6 83.5 L1140.0 83.7 L1119.5 84.3 L1099.5 85.8 L1089.0 87.4 L1083.0 89.2 L1081.9 89.0 L1081.9 88.0 L1084.5 85.4 L1090.0 82.9 L1094.5 82.1 L1096.1 80.0 L1094.0 79.3 L1087.0 80.7 L1084.5 80.3 L1078.0 80.8 L1075.0 81.4 L1065.5 85.4 L1060.8 88.0 L1054.9 94.0 L1052.9 97.0 L1051.4 101.0 L1051.4 106.5 L1053.4 110.5 L1061.5 116.1 L1066.0 117.2 L1068.5 117.1 L1069.1 116.5 L1068.1 111.5 L1067.1 109.5 L1063.4 105.5 L1063.4 102.5 L1065.5 100.4 L1066.2 101.0 L1066.4 105.0 L1068.0 107.7 L1074.0 111.6 L1077.5 112.7 L1086.5 113.7 L1102.0 113.4 L1102.7 114.5 L1102.4 120.0 L1104.0 121.1 L1119.2 121.0 Z M1191.6 87.0 L1189.5 89.5 L1188.8 88.5 L1188.3 85.5 L1188.5 80.4 L1190.7 82.0 L1191.7 84.0 L1191.6 87.0 Z M1045.1 114.5 L1045.4 103.5 L1050.4 87.5 L1052.1 84.0 L1052.0 82.9 L1050.5 83.4 L1046.3 86.5 L1043.0 89.8 L1038.9 96.5 L1037.9 100.5 L1037.9 105.0 L1039.9 110.5 L1043.3 114.5 L1045.1 114.5 Z M1156.0 105.1 L1153.5 105.1 L1152.0 103.5 L1157.5 99.7 L1159.6 96.5 L1159.6 92.0 L1156.9 88.5 L1157.5 87.8 L1162.5 92.8 L1163.2 95.5 L1162.1 98.5 L1160.0 101.7 L1156.0 105.1 Z M1186.5 102.6 L1185.4 102.5 L1185.4 100.0 L1187.4 95.5 L1189.0 94.4 L1189.7 96.0 L1189.6 99.0 L1186.5 102.6 Z M984.0 526.1 L981.5 526.1 L978.9 523.0 L978.7 519.5 L976.8 509.0 L976.7 505.0 L975.8 499.5 L975.7 490.0 L974.8 483.0 L974.4 454.0 L976.1 450.0 L979.9 436.0 L983.4 428.5 L988.4 420.0 L1005.5 402.3 L1010.0 398.9 L1013.5 397.5 L1016.0 398.8 L1017.1 400.0 L1017.1 401.0 L1006.0 408.3 L996.4 419.0 L995.9 420.5 L997.5 422.5 L997.2 423.5 L990.9 433.5 L987.1 445.0 L985.4 447.0 L984.4 449.5 L984.3 453.5 L985.2 456.5 L983.8 461.5 L983.7 467.5 L983.1 469.5 L982.5 469.6 L981.0 466.9 L980.8 470.0 L981.8 491.0 L986.2 518.0 L986.1 522.5 L985.1 525.0 L984.0 526.1 Z M973.5 451.2 L973.0 451.4 L972.4 450.5 L972.3 449.0 L976.9 429.0 L983.4 417.0 L986.7 413.5 L978.9 429.5 L973.5 451.2 Z M1055.5 424.6 L1053.0 424.1 L1051.5 422.7 L1049.4 419.0 L1049.0 416.4 L1050.5 416.9 L1053.0 419.3 L1055.6 423.0 L1056.0 424.0 L1055.5 424.6 Z M1063.0 455.1 L1061.5 455.1 L1061.3 454.5 L1061.2 447.5 L1060.1 444.0 L1057.2 441.0 L1051.5 437.6 L1049.9 436.0 L1051.8 433.5 L1056.0 430.9 L1058.0 431.8 L1064.2 438.0 L1067.6 443.5 L1067.6 447.0 L1064.6 453.5 L1063.0 455.1 Z M1002.0 516.1 L996.5 516.1 L993.9 512.5 L992.4 507.5 L989.8 493.0 L987.3 472.0 L986.8 462.5 L987.9 454.0 L990.0 452.4 L996.0 450.4 L996.6 450.5 L996.7 451.5 L995.8 462.5 L995.8 471.0 L996.8 485.5 L1000.4 504.5 L1003.2 514.0 L1003.1 515.5 L1002.0 516.1 Z M1081.0 520.6 L1080.4 520.0 L1081.4 518.0 L1096.9 492.0 L1105.7 480.0 L1105.6 481.5 L1103.1 486.0 L1097.9 494.0 L1085.1 516.0 L1081.0 520.6 Z M1017.0 522.6 L1015.8 521.5 L1016.4 517.5 L1018.4 513.5 L1020.0 513.4 L1021.1 514.5 L1021.1 516.5 L1019.6 520.0 L1017.0 522.6 Z M970.5 640.7 L968.3 640.5 L972.1 628.5 L975.2 615.0 L974.7 587.0 L974.3 585.0 L974.3 579.0 L975.1 578.0 L974.5 577.6 L974.0 578.0 L973.8 576.0 L973.8 571.5 L975.1 569.5 L974.5 567.9 L973.7 568.0 L973.5 568.9 L973.3 567.5 L971.8 549.5 L972.0 545.9 L973.6 550.0 L974.7 557.0 L974.4 562.0 L975.4 566.0 L976.6 567.5 L977.2 569.5 L975.8 574.0 L975.9 575.5 L977.2 578.0 L976.3 581.5 L976.3 584.5 L977.2 587.5 L976.8 599.5 L978.2 606.0 L978.3 611.5 L979.0 612.5 L980.2 610.0 L981.8 587.5 L983.5 581.9 L986.6 582.0 L987.2 593.0 L985.7 623.5 L984.6 630.5 L983.0 633.5 L980.5 632.6 L979.4 631.5 L979.7 620.5 L979.0 618.8 L978.0 618.4 L976.4 621.0 L970.5 640.7 Z M1057.5 640.7 L1044.0 640.7 L1043.2 639.0 L1038.0 635.4 L1028.0 630.2 L1027.9 629.0 L1029.2 625.5 L1028.9 623.0 L1031.5 623.1 L1033.5 621.9 L1036.0 624.7 L1037.5 625.2 L1038.7 625.0 L1040.5 622.9 L1042.3 625.0 L1043.5 625.2 L1048.0 622.4 L1048.6 623.5 L1047.4 625.5 L1048.0 626.7 L1050.0 628.6 L1056.6 632.5 L1057.7 638.0 L1057.5 640.7 Z M967.0 470.0 L968.0 448.0 L973.0 432.0 L982.0 421.0 L992.0 417.0 L1000.0 424.0 L1004.0 440.0 L1005.5 458.0 L1005.0 480.0 L1003.0 497.0 L1000.5 515.0 L998.5 535.0 L995.5 550.0 L992.0 562.0 L990.5 585.0 L988.0 605.0 L986.0 612.0 L981.5 612.0 L980.5 590.0 L980.0 565.0 L978.7 548.0 L977.5 565.0 L977.5 590.0 L977.5 612.0 L973.0 612.0 L972.0 590.0 L970.5 560.0 L968.5 530.0 L967.0 500.0 Z M975.0 640.5 L978.0 630.0 L986.0 623.5 L1000.0 625.5 L1012.0 621.0 L1020.0 621.0 L1035.0 623.0 L1050.0 623.5 L1057.0 625.5 L1060.5 640.5 Z" fill="#000" fill-rule="nonzero"/>
<g class="c">
<path d="M962.0 640.5 L965.0 631.0 L966.0 629.5 L966.5 627.0 L970.5 617.5 L971.5 610.0 L972.0 609.5 L970.5 598.5 L970.0 598.0 L969.5 567.0 L969.0 566.5 L968.0 558.0 L963.5 549.0 L962.5 541.5 L962.0 541.0 L962.0 455.0 L962.5 454.5 L963.0 439.5 L963.5 439.0 L963.5 435.0 L966.5 429.0 L966.5 428.0 L970.5 419.5 L970.5 418.5 L977.5 405.5 L982.0 398.5 L992.0 378.5 L993.5 371.5 L994.0 371.0 L994.0 369.0 L996.0 362.5 L996.0 360.5 L998.0 354.0 L1000.0 337.5 L1007.0 316.5 L1005.5 293.5 L1005.0 293.0 L1004.0 281.0 L1003.5 280.5 L1003.5 277.0 L1003.0 276.5 L1003.0 272.5 L1002.5 272.0 L1002.5 268.5 L1002.0 268.0 L1002.0 264.5 L1001.5 264.0 L1001.5 260.5 L1001.0 260.0 L1001.0 256.5 L1000.5 256.0 L1000.5 250.5 L1001.0 250.0 L1001.5 238.0 L1002.0 237.5 L1004.0 228.0 L1005.0 226.0 L1006.5 218.5 L1012.0 202.5 L1012.0 201.0 L1012.5 200.5 L1012.5 199.0 L1016.5 184.5 L1017.5 167.0 L1017.0 166.5 L1015.5 158.0 L1014.5 155.5 L1014.5 153.5 L1013.5 151.0 L1013.5 129.5 L1013.0 129.0 L1013.0 108.0 L1015.0 103.0 L1015.0 101.5 L1016.5 97.0 L1026.0 82.5 L1036.0 71.0 L1047.0 62.0 L1060.0 56.0 L1061.0 56.0 L1064.5 54.0 L1066.0 54.0 L1066.5 53.5 L1068.0 53.5 L1068.5 53.0 L1070.0 53.0 L1084.5 49.0 L1087.5 49.0 L1088.0 48.5 L1099.0 48.0 L1099.5 47.5 L1104.5 47.5 L1105.0 47.0 L1110.0 47.0 L1110.5 46.5 L1116.5 46.5 L1117.0 46.0 L1124.0 46.0 L1124.5 45.5 L1132.0 45.5 L1132.5 45.0 L1139.5 45.0 L1140.0 44.5 L1152.0 44.0 L1152.5 43.5 L1161.0 42.0 L1170.0 39.5 L1189.5 39.5 L1191.0 40.5 L1192.0 40.5 L1193.5 41.5 L1196.0 42.0 L1203.0 45.0 L1213.0 54.0 L1219.5 67.5 L1221.0 76.5 L1222.0 79.0 L1222.0 83.0 L1221.5 83.5 L1221.0 94.5 L1216.5 107.0 L1209.5 117.5 L1198.5 130.5 L1190.5 142.5 L1183.5 157.0 L1174.5 169.0 L1170.0 179.5 L1174.0 194.5 L1181.5 209.0 L1181.5 210.0 L1186.0 219.5 L1186.0 222.5 L1186.5 223.0 L1186.5 228.0 L1187.0 228.5 L1187.0 233.5 L1187.5 234.0 L1187.5 239.0 L1188.0 239.5 L1187.5 262.5 L1187.0 263.0 L1187.0 271.0 L1186.0 273.5 L1185.5 278.0 L1185.0 278.5 L1184.0 285.0 L1183.5 285.5 L1182.5 294.0 L1182.0 294.5 L1182.0 296.0 L1177.0 306.0 L1175.5 307.5 L1145.0 333.0 L1126.5 347.0 L1122.0 357.0 L1121.0 360.5 L1119.5 363.0 L1119.5 364.0 L1118.0 366.5 L1123.5 381.5 L1140.0 392.5 L1154.5 412.0 L1157.5 420.0 L1157.5 421.5 L1160.5 430.5 L1158.5 436.5 L1158.5 438.0 L1157.5 440.0 L1157.0 443.5 L1156.0 445.5 L1155.5 449.0 L1153.0 453.5 L1147.5 461.5 L1141.0 472.5 L1115.5 506.0 L1114.5 508.0 L1092.5 537.5 L1085.5 551.0 L1085.5 552.5 L1084.0 556.0 L1084.0 557.5 L1081.0 566.0 L1080.0 571.0 L1075.5 584.5 L1074.5 589.5 L1073.0 593.0 L1073.0 594.5 L1071.5 598.0 L1071.5 599.5 L1070.0 603.0 L1068.5 609.5 L1065.0 619.5 L1069.0 627.0 L1069.0 640.5"/>
<path d="M965.9 640.5 L973.8 617.5 L974.4 611.0 L974.5 604.0 L973.1 601.5 L972.6 596.5 L973.0 593.5 L974.3 591.5 L974.3 588.5 L972.8 586.0 L972.2 583.5 L971.1 562.5 L972.2 560.0 L972.3 557.5 L967.9 540.5 L966.4 469.0 L967.9 443.5 L971.4 428.5 L972.9 425.0 L980.0 413.3 L1001.8 386.0 L1003.9 382.5 L1018.9 350.5 L1021.7 337.0 L1021.9 315.5 L1019.5 299.0 L1018.0 290.5 L1010.3 265.5 L1009.3 260.5 L1010.8 242.5 L1013.3 231.5 L1019.7 209.5 L1027.4 187.5 L1030.7 173.0 L1028.8 164.0 L1023.3 152.0 L1019.8 138.0 L1019.3 118.0 L1019.4 109.5 L1019.8 108.0 L1024.3 97.0 L1032.3 84.5 L1045.3 71.5 L1058.0 64.3 L1076.5 55.9 L1099.5 51.4 L1152.0 46.8 L1170.0 42.9 L1187.5 42.9 L1201.0 48.9 L1210.1 58.0 L1215.1 69.5 L1217.1 81.0 L1216.1 96.5 L1210.6 109.0 L1203.6 119.5 L1194.5 131.6 L1182.5 142.7 L1168.5 150.6 L1153.6 171.0 L1150.3 176.5 L1149.5 181.0 L1149.1 189.0 L1151.5 199.0 L1153.7 205.0 L1163.5 222.0 L1164.9 226.5 L1166.5 240.5 L1167.5 263.5 L1162.5 276.5 L1161.0 278.5 L1146.5 288.6 L1127.8 306.5 L1117.0 310.1 L1104.5 313.2 L1101.5 314.6 L1099.2 316.5 L1097.0 319.5 L1095.9 322.5 L1095.1 335.5 L1092.8 344.5 L1083.1 358.5 L1080.4 364.0 L1079.2 371.5 L1079.3 377.0 L1081.3 382.0 L1085.2 387.5 L1092.2 393.0 L1123.0 412.0 L1124.5 413.5 L1132.4 427.0 L1132.5 444.0 L1131.0 448.5 L1123.5 465.5 L1095.4 505.0 L1085.2 522.5 L1076.7 541.0 L1071.7 564.0 L1066.8 580.5 L1060.9 597.0 L1057.0 614.0 L1057.8 623.0 L1060.7 640.5"/>
<path d="M1066.5 338.6 L1066.0 338.8 L1064.8 338.0 L1061.0 333.0 L1058.4 322.0 L1056.5 318.0 L1050.4 310.5 L1028.0 286.9 L1018.4 274.5 L1013.9 265.0 L1013.4 250.0 L1014.4 244.0 L1023.8 217.0 L1038.5 188.0 L1042.1 178.5 L1039.4 170.5 L1033.9 162.5 L1027.9 150.5 L1024.9 139.0 L1025.3 135.5 L1023.1 120.0 L1022.7 112.5 L1023.6 106.5 L1025.9 99.0 L1028.8 93.5 L1034.2 85.0 L1045.5 73.7 L1059.5 65.6 L1077.5 58.1 L1100.5 53.7 L1148.0 49.5 L1169.5 46.7 L1181.0 47.1 L1189.5 49.4 L1195.4 52.5 L1200.0 56.0 L1204.4 61.0 L1207.6 66.5 L1210.1 73.0 L1211.5 80.5 L1211.7 88.0 L1210.9 95.0 L1208.3 103.0 L1204.9 110.0 L1199.0 119.0 L1192.0 127.6 L1187.5 131.7 L1183.0 134.8 L1179.0 136.3 L1175.0 136.2 L1164.5 142.1 L1152.1 154.5 L1142.1 169.0 L1138.4 180.0 L1136.5 195.5 L1138.6 210.0 L1142.4 221.5 L1144.5 237.0 L1145.5 258.5 L1142.3 271.0 L1127.5 282.9 L1109.5 288.3 L1090.5 295.6 L1087.0 297.7 L1077.0 306.0 L1071.6 313.0 L1069.7 317.0 L1070.0 326.0 L1072.2 334.5 L1066.5 338.6 Z"/>
<path d="M968.4 640.5 L972.4 628.5 L975.4 615.5 L975.5 603.0 L975.0 602.5 L975.0 586.5 L974.5 586.0 L974.4 579.0 L975.0 578.9 L975.3 578.0 L974.5 577.0 L973.9 578.5 L973.9 571.5 L974.9 571.0 L975.1 569.5 L975.0 568.5 L974.0 567.5 L973.5 571.1 L973.0 557.0 L972.5 556.5 L972.4 550.5 L972.0 550.0 L971.9 544.0 L971.4 543.0 L970.4 507.5 L969.9 506.0 L970.4 454.5 L973.9 439.0 L974.9 435.0 L979.4 423.5 L989.0 407.4 L1001.3 394.5 L1008.2 386.0 L1020.0 367.3 L1030.5 361.6 L1033.5 361.0 L1043.5 361.6 L1047.0 362.5 L1059.4 376.5 L1070.0 386.9 L1085.5 397.7 L1103.5 405.4 L1108.1 408.0 L1120.6 418.5 L1126.6 435.0 L1124.1 451.5 L1122.1 456.0 L1112.6 472.5 L1097.7 493.5 L1087.1 512.5 L1076.7 528.5 L1067.4 547.0 L1062.1 559.5 L1061.6 580.5 L1056.1 595.5 L1051.0 606.5 L1049.8 615.5 L1049.9 620.0 L1053.0 623.3 L1055.5 629.0 L1057.0 635.0 L1057.6 640.5"/>
<path d="M1051.5 293.1 L1049.5 293.2 L1040.0 288.2 L1028.5 277.2 L1021.8 266.5 L1016.4 254.5 L1017.9 247.0 L1023.3 236.0 L1033.3 218.0 L1046.4 197.5 L1050.1 188.5 L1052.4 177.5 L1049.8 165.5 L1036.8 146.5 L1033.5 138.0 L1030.2 132.0 L1027.2 122.0 L1025.8 113.5 L1026.1 106.5 L1028.0 99.0 L1031.9 91.0 L1038.2 82.5 L1044.0 76.8 L1048.5 73.3 L1063.0 65.7 L1074.0 61.3 L1081.0 59.3 L1095.5 56.6 L1108.0 55.0 L1167.0 49.9 L1173.5 50.0 L1180.0 50.9 L1185.5 52.6 L1190.4 55.0 L1196.4 59.5 L1201.0 64.9 L1204.4 71.5 L1206.6 79.0 L1207.2 86.5 L1206.4 94.5 L1204.3 102.0 L1200.7 109.5 L1193.1 120.5 L1185.0 128.3 L1179.0 131.6 L1169.0 134.8 L1165.5 134.8 L1163.0 135.8 L1152.5 142.0 L1141.0 153.5 L1132.0 169.0 L1128.7 181.0 L1124.3 194.0 L1104.6 209.0 L1101.4 212.5 L1099.7 215.5 L1099.2 220.5 L1100.8 227.0 L1107.1 241.5 L1114.4 256.0 L1112.3 266.0 L1099.5 274.9 L1084.5 282.3 L1077.5 283.9 L1066.5 290.4 L1063.5 291.4 L1051.5 293.1 Z"/>
<path d="M970.9 640.5 L974.9 628.5 L977.9 615.5 L977.4 586.0 L976.9 585.0 L975.9 557.5 L975.4 556.5 L975.3 550.5 L974.9 550.0 L974.8 543.5 L974.4 543.0 L973.4 507.5 L972.9 504.5 L973.9 449.0 L977.4 433.5 L977.5 431.5 L979.0 428.0 L986.0 415.9 L998.3 404.0 L1007.9 391.5 L1018.0 382.8 L1027.0 380.2 L1031.0 379.6 L1040.5 380.7 L1043.5 382.1 L1051.5 386.2 L1066.5 397.9 L1085.5 407.5 L1103.5 415.3 L1115.2 427.0 L1119.6 444.0 L1115.6 460.5 L1113.6 464.5 L1100.0 488.0 L1097.6 491.5 L1092.5 501.0 L1081.0 518.1 L1071.7 528.5 L1062.8 544.0 L1055.9 559.5 L1056.1 580.5 L1051.3 593.0 L1047.7 604.5 L1046.1 619.5 L1046.4 622.0 L1050.4 626.0 L1052.8 630.0 L1054.6 635.5 L1055.2 640.5"/>
<path d="M1082.5 194.0 L1078.5 192.7 L1075.0 189.3 L1062.2 171.0 L1055.5 157.5 L1033.4 128.5 L1029.1 115.5 L1028.4 110.5 L1028.5 106.0 L1029.3 101.0 L1031.0 96.0 L1033.8 90.5 L1037.3 85.5 L1047.0 76.1 L1059.0 69.1 L1076.0 62.6 L1092.5 59.2 L1119.5 56.0 L1167.5 52.8 L1174.5 53.4 L1180.5 54.8 L1186.0 57.2 L1191.1 60.5 L1196.0 65.5 L1199.9 72.0 L1202.3 79.5 L1203.1 87.0 L1202.4 94.5 L1200.2 102.0 L1196.5 109.5 L1191.3 117.0 L1185.5 123.1 L1179.5 127.4 L1172.0 130.6 L1162.0 133.6 L1145.0 142.3 L1132.8 154.5 L1125.5 165.8 L1120.5 169.0 L1116.0 184.2 L1091.0 192.1 L1082.5 194.0 Z"/>
<path d="M1049.5 285.2 L1047.0 285.1 L1045.5 284.2 L1033.4 274.0 L1025.8 260.5 L1022.4 249.0 L1022.4 247.5 L1024.4 239.5 L1025.9 236.5 L1032.5 225.9 L1042.8 214.0 L1053.5 206.2 L1066.0 202.3 L1068.4 202.5 L1072.5 204.3 L1076.2 208.0 L1081.3 223.0 L1090.9 242.5 L1093.3 249.0 L1089.4 261.0 L1080.4 271.0 L1071.5 277.7 L1062.5 283.7 L1049.5 285.2 Z"/>
<path d="M974.9 640.5 L978.8 628.5 L980.9 611.5 L980.3 557.5 L979.4 550.0 L976.9 505.0 L976.4 504.0 L976.4 454.0 L980.9 436.0 L988.5 421.3 L1001.2 408.0 L1008.5 399.3 L1015.8 393.0 L1020.0 389.8 L1028.0 387.8 L1030.5 387.8 L1038.0 388.3 L1041.0 388.8 L1043.0 389.8 L1050.5 393.8 L1064.0 404.6 L1097.0 420.8 L1107.2 431.0 L1110.7 444.5 L1107.7 459.5 L1105.2 465.0 L1085.7 499.5 L1066.3 528.5 L1057.2 545.0 L1050.8 559.5 L1049.6 580.5 L1045.8 592.5 L1043.8 601.0 L1042.2 610.0 L1041.3 620.0 L1041.6 621.0 L1047.5 626.9 L1050.1 630.5 L1052.2 635.5 L1053.0 640.5"/>
<path d="M1094.5 174.5 L1084.5 174.8 L1074.5 170.8 L1065.3 165.0 L1059.7 153.5 L1046.7 135.0 L1038.0 125.7 L1035.0 121.5 L1032.9 117.5 L1031.3 113.0 L1030.6 108.5 L1030.7 103.5 L1031.6 99.0 L1033.3 94.5 L1035.7 90.0 L1039.0 85.5 L1048.0 77.0 L1060.0 70.2 L1076.5 64.3 L1094.5 60.9 L1124.5 57.8 L1165.5 55.6 L1172.5 56.2 L1178.5 57.7 L1184.0 60.1 L1188.8 63.5 L1193.4 68.5 L1196.8 74.5 L1198.8 81.0 L1199.4 88.0 L1198.6 95.0 L1196.4 102.0 L1192.9 109.0 L1188.2 115.5 L1181.5 122.0 L1173.5 126.8 L1155.0 133.9 L1152.0 134.3 L1148.0 133.5 L1134.0 140.5 L1123.5 151.0 L1115.0 161.4 L1107.9 168.0 L1104.0 170.9 L1094.5 174.5 Z"/>
<path d="M1047.5 278.1 L1045.8 278.0 L1038.0 272.2 L1032.4 263.0 L1030.3 254.0 L1032.3 241.5 L1034.3 237.5 L1040.5 229.3 L1051.0 223.2 L1060.0 220.8 L1070.3 228.0 L1075.1 237.5 L1080.3 246.0 L1081.2 248.5 L1078.2 260.0 L1067.3 271.0 L1060.0 276.2 L1047.5 278.1 Z"/>
<path d="M979.1 640.5 L981.5 626.0 L982.7 613.0 L983.7 577.5 L983.4 557.0 L977.9 492.5 L977.2 466.0 L977.4 455.0 L978.6 448.5 L981.3 438.0 L984.1 431.0 L989.5 421.5 L995.0 415.1 L1006.5 403.8 L1012.5 399.1 L1021.0 394.5 L1030.0 391.9 L1039.0 392.9 L1043.0 394.4 L1049.7 398.5 L1062.5 409.7 L1090.7 425.5 L1099.2 435.0 L1102.2 445.5 L1099.2 459.5 L1097.2 464.0 L1087.7 483.0 L1067.8 516.5 L1062.1 527.5 L1054.2 541.0 L1045.3 559.5 L1042.7 580.5 L1037.9 596.0 L1035.3 606.5 L1034.7 619.0 L1043.5 626.5 L1047.2 630.5 L1050.0 635.5 L1051.0 640.5"/>
<path d="M1091.5 160.0 L1081.5 160.3 L1073.0 157.7 L1070.2 156.0 L1063.0 149.7 L1058.1 140.5 L1043.2 123.0 L1039.0 120.7 L1035.8 117.0 L1034.0 113.3 L1032.8 109.0 L1032.5 104.5 L1033.0 100.0 L1034.4 95.5 L1036.6 91.0 L1039.8 86.5 L1043.5 82.5 L1048.8 78.0 L1055.0 74.2 L1061.5 71.1 L1070.5 67.9 L1085.0 64.4 L1109.0 61.2 L1148.0 58.4 L1167.0 58.3 L1173.5 59.3 L1178.7 61.0 L1184.0 63.9 L1188.2 67.5 L1192.0 72.5 L1194.6 78.5 L1195.9 85.0 L1195.8 91.5 L1194.4 98.0 L1191.8 104.5 L1187.5 111.3 L1182.5 117.0 L1176.5 121.7 L1169.5 125.7 L1156.5 130.9 L1153.0 131.6 L1149.5 131.3 L1142.0 134.1 L1128.5 141.6 L1115.0 150.7 L1102.5 156.3 L1091.5 160.0 Z"/>
<path d="M1062.0 268.1 L1048.0 268.2 L1040.0 260.3 L1037.9 254.5 L1039.8 246.0 L1047.2 237.5 L1049.5 236.3 L1059.5 233.8 L1061.2 235.0 L1068.2 244.0 L1069.2 252.0 L1069.2 254.0 L1062.0 268.1 Z"/>
<path d="M982.2 640.5 L984.1 623.5 L986.2 585.5 L986.9 561.0 L985.1 539.5 L979.2 492.0 L977.8 470.5 L978.2 455.5 L979.1 448.5 L984.6 431.0 L991.0 420.5 L995.0 415.6 L1005.5 405.9 L1009.5 403.4 L1017.5 399.4 L1030.0 395.9 L1039.5 397.4 L1042.0 398.4 L1048.7 403.0 L1060.5 414.2 L1074.0 422.8 L1084.8 430.5 L1092.2 439.0 L1095.1 446.5 L1091.2 462.0 L1080.2 484.0 L1071.8 498.5 L1054.6 532.0 L1049.2 541.0 L1040.3 559.5 L1033.4 587.5 L1031.7 594.5 L1030.2 605.5 L1029.8 620.5 L1033.0 623.1 L1039.5 626.6 L1044.5 630.9 L1048.0 635.6 L1049.3 640.5"/>
<path d="M1096.5 149.2 L1084.0 148.8 L1076.0 147.2 L1068.0 144.7 L1055.7 129.5 L1048.0 121.7 L1047.0 120.8 L1044.5 120.4 L1041.5 119.0 L1038.0 115.7 L1035.9 112.0 L1034.6 107.5 L1034.2 103.0 L1034.9 98.5 L1036.5 94.0 L1039.1 89.5 L1042.0 85.7 L1046.5 81.5 L1050.5 78.4 L1058.5 73.9 L1074.0 68.5 L1093.0 65.2 L1118.5 62.4 L1150.0 60.5 L1168.0 60.9 L1173.5 62.0 L1178.0 63.7 L1183.0 66.8 L1186.5 70.0 L1189.8 75.0 L1192.2 81.0 L1193.0 86.5 L1192.6 92.5 L1191.0 99.0 L1188.4 104.5 L1184.0 111.0 L1179.2 116.0 L1170.0 122.5 L1159.5 127.5 L1154.5 129.3 L1149.0 130.2 L1140.0 133.1 L1138.0 133.2 L1124.0 141.1 L1106.5 148.1 L1096.5 149.2 Z"/>
<path d="M984.9 640.5 L986.4 627.5 L986.5 608.5 L986.9 608.0 L987.4 598.0 L987.9 597.5 L987.9 593.0 L988.9 587.5 L990.4 558.5 L988.3 538.5 L986.4 529.0 L986.4 526.0 L983.4 510.5 L983.4 508.0 L981.5 499.0 L981.4 496.5 L981.0 496.0 L980.9 493.0 L980.5 492.5 L979.0 473.0 L978.5 472.5 L979.5 448.5 L984.0 435.0 L984.5 432.0 L991.5 420.5 L995.5 415.5 L1007.0 406.0 L1017.5 401.9 L1029.0 400.9 L1040.0 402.9 L1047.6 407.5 L1058.5 418.7 L1069.7 426.5 L1081.0 436.7 L1086.2 443.0 L1088.1 448.5 L1085.1 461.0 L1074.2 483.0 L1065.3 498.5 L1053.6 523.0 L1041.7 546.0 L1037.1 560.5 L1027.9 579.5 L1022.8 597.0 L1021.3 606.5 L1020.9 615.5 L1021.4 618.0 L1028.3 623.5 L1036.5 627.7 L1042.0 631.5 L1046.5 636.4 L1047.9 640.5"/>
<path d="M1093.0 140.7 L1076.5 140.1 L1071.5 137.7 L1068.3 136.0 L1054.0 122.2 L1051.0 121.4 L1043.0 117.3 L1039.2 113.5 L1037.0 109.5 L1035.9 105.0 L1035.7 101.5 L1036.8 96.5 L1038.0 93.5 L1041.6 88.0 L1049.5 80.5 L1060.0 74.7 L1075.0 69.9 L1098.0 66.6 L1126.5 63.9 L1152.0 62.7 L1170.5 63.7 L1174.0 64.7 L1178.0 66.7 L1182.5 69.7 L1185.2 72.5 L1188.3 78.5 L1190.2 84.5 L1190.1 90.0 L1188.7 97.0 L1186.5 102.2 L1181.6 109.5 L1178.5 113.0 L1172.8 117.5 L1166.5 121.7 L1159.5 125.1 L1152.1 128.0 L1131.6 134.0 L1128.7 135.5 L1128.0 137.0 L1117.0 138.6 L1093.0 140.7 Z"/>
<path d="M1012.5 595.1 L1011.7 595.0 L1009.6 592.5 L1003.1 583.0 L993.4 556.5 L991.3 539.0 L989.4 530.0 L983.4 492.5 L981.8 473.0 L981.4 472.5 L982.0 447.5 L986.4 433.0 L996.4 418.0 L1009.0 408.9 L1019.5 405.9 L1030.0 404.9 L1039.0 406.9 L1046.6 412.0 L1056.5 422.3 L1066.2 430.0 L1076.5 440.3 L1081.1 447.0 L1082.1 452.5 L1079.1 462.0 L1070.6 478.5 L1059.3 498.5 L1052.3 512.5 L1047.1 526.0 L1037.7 544.5 L1021.6 587.0 L1020.5 588.6 L1012.5 595.1 Z"/>
<path d="M989.4 640.5 L989.8 637.0 L991.2 632.5 L996.0 623.7 L998.5 620.8 L1001.5 618.4 L1004.0 617.2 L1007.0 616.7 L1011.0 617.7 L1019.0 623.2 L1031.0 627.7 L1037.0 630.7 L1044.5 636.4 L1046.1 638.5 L1046.7 640.5"/>
<path d="M1117.5 133.1 L1079.0 133.2 L1075.5 132.7 L1067.0 127.6 L1059.5 121.7 L1051.0 119.5 L1043.5 115.6 L1042.0 114.1 L1038.5 109.0 L1037.0 103.0 L1037.0 101.0 L1038.5 95.0 L1042.5 88.5 L1050.5 81.0 L1061.0 75.5 L1062.5 75.4 L1071.0 72.5 L1077.5 71.0 L1081.0 70.9 L1081.5 70.5 L1085.0 70.4 L1085.5 70.0 L1089.0 69.9 L1093.5 69.0 L1097.5 68.9 L1098.0 68.5 L1117.5 66.9 L1118.0 66.4 L1144.5 65.4 L1145.5 64.9 L1155.5 64.9 L1156.5 65.4 L1172.0 66.0 L1183.0 72.9 L1188.1 84.5 L1187.1 93.0 L1185.6 99.0 L1177.1 111.0 L1165.0 120.1 L1150.5 127.0 L1135.5 131.0 L1117.5 133.1 Z"/>
<path d="M1011.5 582.9 L1004.4 573.0 L1002.9 570.0 L998.9 559.0 L996.4 549.0 L993.3 528.0 L986.4 490.0 L984.4 470.5 L983.9 470.0 L984.4 446.5 L989.4 432.0 L994.8 425.5 L998.5 419.9 L1008.0 412.9 L1010.5 411.9 L1019.0 409.8 L1031.0 409.9 L1040.0 411.7 L1047.6 416.5 L1061.9 431.0 L1062.5 432.5 L1062.4 435.5 L1063.0 436.3 L1066.5 436.6 L1069.9 439.0 L1070.5 440.0 L1070.5 442.2 L1073.2 444.0 L1074.6 446.0 L1077.1 452.0 L1075.2 456.5 L1075.7 460.5 L1075.2 462.0 L1074.5 463.0 L1073.0 463.5 L1072.6 466.5 L1071.0 469.6 L1068.5 472.6 L1064.5 472.9 L1062.3 474.5 L1062.1 476.0 L1064.0 478.0 L1063.6 482.5 L1058.3 488.5 L1057.0 493.5 L1052.0 503.0 L1052.1 504.0 L1049.0 509.5 L1041.1 528.5 L1023.2 566.0 L1019.7 572.5 L1011.5 582.9 Z"/>
<path d="M992.8 640.5 L994.5 636.2 L1000.0 630.5 L1005.5 627.4 L1011.0 626.5 L1024.5 628.6 L1031.5 630.4 L1042.5 636.7 L1045.0 638.8 L1045.7 640.5"/>
<path d="M1116.0 130.5 L1081.5 130.6 L1076.5 129.8 L1071.0 127.4 L1059.5 120.6 L1050.6 117.0 L1045.0 112.5 L1042.3 108.0 L1041.3 103.5 L1041.7 98.5 L1043.3 94.0 L1045.7 90.0 L1049.4 86.0 L1052.9 83.0 L1058.0 79.8 L1062.8 77.5 L1071.5 74.6 L1082.5 72.3 L1119.5 68.4 L1152.0 67.0 L1163.5 67.9 L1169.5 69.2 L1174.5 71.6 L1179.1 75.5 L1181.5 79.2 L1183.3 84.0 L1183.9 88.0 L1183.5 93.0 L1182.4 97.5 L1180.2 102.0 L1176.9 107.0 L1173.5 110.5 L1163.5 118.0 L1149.5 124.5 L1134.0 128.5 L1116.0 130.5 Z"/>
<path d="M1012.0 564.5 L1005.5 559.7 L1003.4 555.5 L1001.4 551.0 L997.9 536.0 L991.4 501.0 L986.9 468.5 L987.4 445.5 L991.2 434.5 L994.0 430.6 L998.5 427.4 L999.4 425.5 L999.0 423.5 L1000.5 421.7 L1005.5 418.5 L1016.0 413.5 L1019.0 413.6 L1024.0 415.2 L1027.0 414.2 L1031.0 414.2 L1033.5 415.0 L1037.0 417.3 L1040.0 415.9 L1043.2 416.5 L1044.6 417.5 L1047.5 423.4 L1050.5 422.8 L1054.5 425.8 L1056.7 431.5 L1059.4 433.5 L1062.0 437.9 L1067.2 442.5 L1071.5 451.5 L1071.4 455.0 L1070.5 457.0 L1068.5 457.2 L1066.5 458.9 L1066.1 460.0 L1066.5 462.0 L1064.4 464.0 L1065.0 464.9 L1067.5 464.5 L1069.0 464.8 L1069.7 466.0 L1069.5 467.0 L1067.0 469.9 L1062.5 472.3 L1059.8 475.0 L1058.7 477.5 L1058.5 480.0 L1054.2 486.5 L1053.9 490.0 L1052.0 493.5 L1051.4 496.0 L1049.4 498.5 L1043.9 509.5 L1041.8 516.0 L1038.7 522.0 L1036.6 527.5 L1020.6 560.0 L1012.0 564.5 Z"/>
<path d="M996.1 640.5 L995.0 640.0 L1003.0 635.3 L1010.0 631.9 L1013.0 631.9 L1030.0 631.9 L1044.5 639.5 L1043.1 640.5"/>
<path d="M1108.5 128.5 L1089.5 128.7 L1078.0 127.7 L1070.5 125.1 L1053.2 116.5 L1047.8 112.0 L1045.0 106.5 L1044.5 103.5 L1044.7 100.0 L1047.1 93.5 L1049.9 89.5 L1053.9 85.5 L1058.5 82.2 L1063.5 79.6 L1076.0 75.3 L1094.5 72.5 L1127.5 69.7 L1146.0 69.0 L1154.0 69.2 L1162.5 70.1 L1168.0 71.6 L1173.2 74.5 L1177.1 78.5 L1179.3 82.5 L1180.6 87.0 L1180.7 91.5 L1179.7 96.5 L1177.9 101.0 L1175.0 105.5 L1171.5 109.3 L1166.5 113.4 L1155.5 119.6 L1143.0 123.9 L1129.0 126.7 L1108.5 128.5 Z"/>
<path d="M1014.0 552.1 L1013.5 552.2 L1010.0 548.5 L1006.0 541.6 L1000.8 528.5 L997.0 515.9 L994.2 503.5 L991.6 487.5 L989.5 468.0 L989.5 459.5 L991.1 446.5 L993.3 440.0 L995.9 435.0 L1001.6 429.0 L1005.0 423.4 L1009.5 422.4 L1013.5 423.0 L1016.5 421.2 L1019.0 419.0 L1021.0 418.4 L1023.1 419.5 L1022.3 423.0 L1023.0 424.5 L1024.0 425.0 L1029.0 423.3 L1031.0 421.4 L1034.0 420.4 L1037.0 422.1 L1039.5 421.8 L1043.5 422.4 L1046.0 425.2 L1049.4 425.5 L1048.9 428.5 L1049.4 429.5 L1050.5 430.2 L1053.5 430.2 L1054.5 431.1 L1055.8 434.0 L1058.5 435.0 L1060.5 438.5 L1065.0 442.5 L1067.7 449.0 L1067.0 451.0 L1067.0 455.0 L1065.7 457.5 L1063.3 460.0 L1062.3 465.0 L1062.7 468.5 L1060.4 472.0 L1057.5 473.5 L1056.7 474.5 L1056.0 479.5 L1053.6 482.5 L1051.4 487.5 L1048.3 491.0 L1048.2 494.5 L1043.3 501.5 L1041.4 506.5 L1025.2 538.5 L1019.5 546.9 L1014.0 552.1 Z"/>
<path d="M1100.5 126.5 L1086.5 126.4 L1076.0 125.0 L1070.5 123.2 L1060.0 118.6 L1053.7 115.0 L1049.3 110.5 L1047.3 105.0 L1047.8 99.0 L1050.9 92.5 L1054.5 88.2 L1058.9 84.5 L1063.5 81.8 L1070.2 79.0 L1079.5 76.4 L1099.5 73.7 L1118.5 72.0 L1140.5 70.9 L1156.5 71.4 L1162.5 72.3 L1167.5 74.2 L1172.0 77.1 L1175.4 81.0 L1177.2 85.0 L1178.1 89.5 L1177.8 93.5 L1176.6 98.0 L1174.7 102.0 L1172.0 105.7 L1167.6 110.0 L1163.0 113.3 L1151.0 119.1 L1136.5 123.0 L1117.5 125.6 L1100.5 126.5 Z"/>
<path d="M1014.5 543.0 L1010.3 537.0 L1003.0 523.8 L1000.0 516.5 L997.3 507.5 L994.0 491.0 L992.0 473.0 L991.7 463.0 L992.7 453.5 L994.3 446.5 L996.2 442.0 L1001.3 434.0 L1006.0 431.4 L1006.7 428.5 L1007.5 427.7 L1010.0 426.4 L1013.5 427.7 L1016.5 425.2 L1023.5 427.3 L1026.5 426.3 L1029.5 426.1 L1032.5 423.9 L1034.0 423.8 L1035.1 424.5 L1035.4 425.5 L1033.4 427.0 L1033.6 428.0 L1035.0 428.5 L1037.5 427.5 L1041.5 427.4 L1046.0 431.5 L1048.5 432.0 L1050.5 433.2 L1053.0 432.7 L1055.0 436.2 L1058.0 437.7 L1062.8 442.5 L1063.8 445.5 L1063.6 448.0 L1065.0 450.5 L1065.1 455.5 L1064.5 457.0 L1062.0 458.5 L1060.6 463.0 L1060.6 466.5 L1059.0 470.6 L1056.0 472.3 L1053.6 478.5 L1048.8 483.0 L1049.7 485.0 L1049.3 486.5 L1047.0 488.2 L1044.5 486.6 L1042.4 488.0 L1041.6 496.5 L1036.0 506.6 L1032.0 515.6 L1020.9 535.5 L1017.0 540.8 L1014.5 543.0 Z"/>
<path d="M1096.5 124.5 L1085.0 124.1 L1075.0 122.8 L1061.0 117.9 L1056.8 115.5 L1051.7 111.0 L1049.4 105.0 L1050.2 99.5 L1053.1 93.5 L1057.0 89.0 L1061.0 85.5 L1073.5 79.6 L1081.0 77.9 L1099.0 75.4 L1118.0 73.8 L1140.5 72.7 L1153.5 73.2 L1160.0 73.9 L1164.1 75.0 L1170.0 78.6 L1173.2 82.0 L1174.9 86.0 L1175.8 90.5 L1175.4 94.0 L1173.8 99.0 L1172.4 102.0 L1169.9 105.0 L1165.1 109.5 L1161.5 111.9 L1150.5 117.0 L1133.5 121.2 L1114.0 123.6 L1096.5 124.5 Z"/>
<path d="M1015.5 535.0 L1004.9 520.5 L1001.0 511.8 L999.0 505.5 L995.8 491.0 L994.0 472.5 L994.2 461.0 L995.2 453.5 L998.1 445.0 L1003.4 437.0 L1004.5 436.2 L1009.0 435.0 L1011.5 432.2 L1014.5 432.6 L1017.5 429.7 L1025.5 428.2 L1028.0 429.1 L1030.0 432.6 L1035.0 432.2 L1037.5 430.0 L1040.5 429.4 L1042.1 431.0 L1041.5 434.0 L1042.0 434.9 L1047.5 434.1 L1050.5 435.9 L1052.5 436.0 L1055.0 438.2 L1058.0 439.6 L1061.6 443.5 L1062.0 445.5 L1061.4 449.0 L1062.0 452.5 L1058.9 456.5 L1059.7 459.0 L1057.0 460.0 L1058.1 462.0 L1058.9 466.0 L1058.0 467.5 L1057.0 468.1 L1055.5 467.8 L1053.5 465.9 L1052.0 466.3 L1050.8 467.5 L1049.9 471.5 L1052.5 474.5 L1051.7 478.0 L1050.5 479.5 L1047.5 480.2 L1046.0 481.1 L1039.0 487.0 L1037.7 490.0 L1037.4 494.5 L1034.7 499.0 L1029.5 510.9 L1024.1 521.0 L1015.5 535.0 Z"/>
<path d="M1056.2 458.0 L1056.9 457.0 L1056.8 456.0 L1055.0 455.2 L1053.6 455.5 L1054.0 457.9 L1055.0 458.4 L1056.2 458.0 Z"/>
<path d="M1046.5 474.5 L1047.3 473.0 L1046.5 472.2 L1045.7 472.5 L1045.3 473.5 L1045.5 474.5 L1046.5 474.5 Z"/>
<path d="M1097.0 122.6 L1089.5 122.6 L1089.0 122.1 L1074.5 121.0 L1060.0 116.5 L1053.0 110.6 L1051.0 104.5 L1054.4 95.0 L1062.0 86.9 L1075.5 80.5 L1093.0 77.9 L1093.5 77.5 L1116.5 75.9 L1117.0 75.5 L1147.5 74.5 L1148.0 74.9 L1153.5 75.0 L1154.0 75.4 L1162.0 76.0 L1171.1 82.0 L1174.0 90.5 L1173.1 95.0 L1171.0 101.0 L1163.0 109.1 L1150.5 115.0 L1135.5 118.1 L1133.0 119.1 L1114.5 121.1 L1114.0 121.6 L1098.0 122.1 L1097.0 122.6 Z"/>
<path d="M1023.0 433.9 L1021.2 432.5 L1021.6 431.5 L1023.0 431.1 L1023.7 431.5 L1023.0 433.9 Z"/>
<path d="M1015.5 525.1 L1007.4 519.5 L1001.9 508.5 L997.5 491.0 L996.4 473.5 L995.9 473.0 L995.9 466.5 L996.4 466.0 L997.0 455.5 L1000.0 448.5 L1000.4 446.0 L1001.5 444.0 L1003.0 443.0 L1005.5 439.8 L1011.0 438.4 L1015.5 435.4 L1017.0 435.5 L1019.0 437.0 L1020.0 437.2 L1023.0 435.2 L1024.3 436.5 L1027.0 437.6 L1028.0 437.3 L1029.5 435.3 L1032.5 434.0 L1038.0 434.4 L1040.0 436.0 L1041.8 439.0 L1040.5 442.5 L1040.8 445.0 L1045.5 447.5 L1047.2 447.0 L1049.6 444.5 L1046.0 444.2 L1044.8 443.5 L1044.7 442.0 L1046.1 437.5 L1048.0 436.6 L1052.5 438.2 L1055.0 440.5 L1057.5 441.0 L1060.0 443.0 L1060.8 445.0 L1060.7 446.5 L1059.5 449.3 L1057.4 451.0 L1059.4 453.0 L1059.3 453.5 L1057.5 454.4 L1054.5 453.2 L1052.5 453.7 L1051.3 455.0 L1051.1 458.0 L1049.0 457.4 L1048.0 458.1 L1047.8 459.5 L1049.4 466.0 L1047.0 468.8 L1043.4 470.5 L1042.3 473.5 L1039.8 476.5 L1040.5 478.2 L1043.6 478.5 L1043.8 480.0 L1042.5 481.0 L1040.0 480.3 L1038.8 481.0 L1037.3 485.5 L1034.2 489.0 L1032.9 495.0 L1029.3 500.5 L1026.8 507.0 L1021.1 518.0 L1015.5 525.1 Z"/>
<path d="M1057.2 445.0 L1058.1 444.0 L1058.1 443.0 L1056.2 442.0 L1055.0 440.6 L1054.0 442.1 L1054.1 443.5 L1055.5 445.0 L1057.2 445.0 Z"/>
<path d="M1055.5 463.8 L1053.0 463.0 L1052.2 461.5 L1052.4 460.0 L1054.5 460.6 L1055.8 462.0 L1056.2 463.0 L1055.5 463.8 Z"/>
<path d="M1100.0 119.5 L1091.5 120.0 L1078.5 118.9 L1072.0 117.4 L1065.2 114.5 L1060.8 111.0 L1058.2 106.5 L1057.8 101.5 L1059.6 96.5 L1062.5 92.5 L1065.9 89.5 L1071.0 86.5 L1077.0 83.9 L1093.0 80.6 L1113.0 78.5 L1141.0 77.4 L1151.5 78.4 L1157.0 79.7 L1161.0 81.4 L1164.5 84.2 L1166.7 87.5 L1168.0 93.0 L1166.7 99.0 L1162.5 104.6 L1156.5 108.6 L1148.5 111.7 L1136.0 114.4 L1113.0 118.2 L1100.0 119.5 Z"/>
<path d="M1038.0 439.8 L1037.0 439.8 L1035.5 439.0 L1034.9 437.5 L1035.0 436.0 L1037.0 435.7 L1038.3 436.5 L1038.9 438.0 L1038.0 439.8 Z"/>
<path d="M1049.0 442.6 L1047.5 442.6 L1046.8 442.0 L1046.7 440.5 L1047.5 439.1 L1048.5 439.0 L1050.2 440.5 L1050.1 442.0 L1049.0 442.6 Z"/>
<path d="M1016.5 521.3 L1016.0 521.4 L1013.1 518.0 L1010.4 512.5 L1001.4 479.5 L1000.3 472.0 L1000.2 467.0 L1001.0 460.5 L1002.8 455.0 L1006.0 450.0 L1010.0 445.6 L1011.5 445.0 L1015.5 444.6 L1018.5 443.3 L1021.5 443.4 L1026.0 445.8 L1028.5 444.1 L1030.0 444.1 L1030.9 445.0 L1031.0 446.5 L1030.0 447.2 L1027.5 447.3 L1027.1 448.0 L1028.5 450.6 L1030.0 451.4 L1033.5 450.0 L1035.2 447.5 L1040.0 447.6 L1043.0 449.4 L1046.0 449.6 L1049.1 447.5 L1051.5 447.0 L1052.9 446.0 L1053.5 446.2 L1055.4 447.5 L1055.9 448.5 L1053.5 451.8 L1052.5 452.0 L1050.5 450.6 L1049.0 450.6 L1048.4 451.0 L1047.4 453.5 L1044.5 455.8 L1041.5 455.1 L1040.5 457.0 L1037.5 456.6 L1036.3 457.5 L1035.8 460.5 L1037.0 462.6 L1040.5 462.3 L1042.5 459.8 L1045.0 458.4 L1046.7 461.0 L1047.1 463.5 L1046.5 464.2 L1044.2 465.0 L1044.5 465.8 L1045.8 466.5 L1045.6 467.5 L1042.5 468.7 L1040.7 470.5 L1037.5 475.2 L1036.3 480.0 L1028.7 489.0 L1024.9 497.0 L1019.3 516.5 L1016.5 521.3 Z"/>
<path d="M1093.0 117.5 L1083.0 117.1 L1076.0 116.1 L1071.3 114.5 L1066.4 111.5 L1063.1 108.0 L1061.7 104.0 L1062.3 100.0 L1064.8 95.5 L1068.0 92.3 L1072.0 89.6 L1077.5 87.0 L1083.0 85.2 L1099.5 82.4 L1123.5 80.3 L1141.5 80.3 L1151.5 81.7 L1156.0 83.2 L1159.2 85.0 L1161.9 87.5 L1163.6 90.5 L1164.2 95.0 L1162.6 99.5 L1159.0 103.6 L1153.5 106.6 L1143.5 109.4 L1110.5 115.4 L1093.0 117.5 Z"/>
<path d="M1017.0 517.7 L1016.2 516.0 L1013.4 495.5 L1011.2 489.5 L1006.1 479.5 L1004.4 472.0 L1004.0 467.5 L1005.7 459.0 L1008.5 454.4 L1013.5 450.0 L1019.5 449.1 L1021.5 449.8 L1026.5 454.0 L1030.5 454.1 L1033.6 455.0 L1034.1 456.5 L1033.7 461.0 L1035.2 465.0 L1034.9 466.5 L1033.3 468.0 L1032.7 469.5 L1033.2 474.5 L1032.8 476.5 L1029.5 480.9 L1027.0 482.4 L1025.3 485.0 L1021.0 489.0 L1019.3 492.5 L1018.1 497.5 L1017.6 514.0 L1017.0 517.7 Z"/>
<path d="M1094.5 115.0 L1080.5 114.6 L1073.5 113.1 L1068.9 110.0 L1065.4 106.5 L1064.5 104.0 L1065.3 100.5 L1068.0 96.5 L1071.0 93.7 L1076.0 90.9 L1083.0 88.0 L1097.0 85.4 L1118.5 83.1 L1129.0 82.6 L1140.0 82.9 L1147.5 83.8 L1153.0 85.4 L1157.0 87.2 L1159.6 89.5 L1161.2 92.5 L1161.5 95.5 L1160.1 98.5 L1157.0 101.9 L1153.5 103.7 L1144.5 105.8 L1123.0 109.2 L1107.0 113.1 L1094.5 115.0 Z"/>
<path d="M1093.0 113.1 L1075.0 112.0 L1066.0 104.0 L1072.0 95.9 L1084.5 89.9 L1100.0 87.9 L1103.5 86.9 L1122.5 85.4 L1123.0 84.9 L1145.5 85.9 L1157.0 89.9 L1160.0 95.0 L1155.0 101.0 L1137.5 103.6 L1121.5 105.2 L1108.5 110.1 L1093.0 113.1 Z"/>
<path d="M1081.0 105.5 L1078.5 105.3 L1077.4 104.5 L1077.4 103.0 L1078.5 101.7 L1084.5 98.6 L1092.5 96.4 L1112.5 93.3 L1126.0 92.1 L1137.5 92.0 L1140.0 92.7 L1140.9 94.0 L1139.5 95.7 L1136.0 96.9 L1118.5 99.0 L1081.0 105.5 Z"/>
<path d="M1014.5 547.2 L1014.0 547.5 L1010.0 541.9 L1005.0 532.4 L1000.1 521.0 L996.7 509.5 L993.1 491.0 L990.9 472.0 L990.7 462.0 L991.6 452.5 L993.7 444.0 L997.3 436.5 L1000.5 432.5 L1004.2 430.5 L1004.6 429.5 L1004.4 427.5 L1005.0 426.6 L1010.0 424.6 L1013.5 425.3 L1016.0 423.7 L1018.5 423.5 L1020.0 422.2 L1021.7 425.0 L1024.0 426.3 L1029.0 424.7 L1031.5 422.8 L1033.5 422.4 L1035.5 423.3 L1038.5 426.0 L1042.0 425.8 L1044.2 426.5 L1045.9 428.5 L1050.0 431.5 L1053.5 431.5 L1055.5 435.5 L1058.0 436.3 L1060.0 439.0 L1064.0 442.8 L1065.9 449.5 L1066.1 454.5 L1065.2 457.0 L1062.5 459.4 L1061.4 467.5 L1059.9 471.0 L1056.5 473.2 L1054.7 479.0 L1051.2 482.5 L1051.2 485.0 L1050.6 486.5 L1046.5 491.1 L1044.5 492.5 L1044.3 496.0 L1041.2 501.0 L1027.5 528.8 L1020.8 540.0 L1014.5 547.2 Z"/>
<path d="M1015.5 529.8 L1006.4 520.0 L1000.6 507.0 L996.7 491.0 L996.2 486.0 L995.0 468.5 L996.2 455.0 L999.7 445.0 L1004.5 438.5 L1006.0 437.7 L1011.5 436.5 L1015.5 433.5 L1017.5 430.9 L1025.5 429.0 L1026.5 429.3 L1027.5 430.3 L1027.6 431.5 L1025.9 433.0 L1025.3 434.5 L1026.0 435.9 L1027.0 436.2 L1029.0 434.4 L1032.5 433.2 L1036.0 433.1 L1040.0 431.2 L1040.4 431.5 L1039.5 433.0 L1039.7 434.0 L1041.5 436.3 L1048.0 435.5 L1050.5 437.0 L1053.0 437.5 L1055.0 439.3 L1057.5 440.1 L1060.0 442.4 L1061.4 445.0 L1060.7 449.0 L1061.3 452.0 L1059.0 455.0 L1057.5 455.2 L1054.0 454.1 L1052.5 455.0 L1053.0 458.3 L1055.5 460.1 L1057.2 462.5 L1057.2 466.5 L1056.5 466.7 L1054.0 464.8 L1052.0 464.8 L1047.5 469.8 L1044.1 471.5 L1043.7 474.5 L1046.0 478.5 L1045.8 479.5 L1043.0 482.2 L1040.0 483.0 L1036.5 488.5 L1035.5 494.0 L1032.5 498.5 L1027.5 509.9 L1022.5 519.2 L1015.5 529.8 Z"/>
<path d="M1051.2 464.0 L1051.5 463.0 L1051.0 460.9 L1050.5 460.0 L1049.5 459.8 L1049.0 461.0 L1049.5 463.0 L1051.2 464.0 Z"/>
<path d="M1050.5 478.0 L1049.5 478.5 L1048.1 477.0 L1048.0 475.1 L1049.0 474.0 L1050.0 474.0 L1051.2 475.0 L1051.3 476.5 L1050.5 478.0 Z"/>
<path d="M1049.0 441.7 L1047.5 441.6 L1047.8 440.0 L1049.2 440.5 L1049.0 441.7 Z"/>
<path d="M1016.5 519.8 L1014.7 517.5 L1013.5 514.5 L1009.2 496.5 L1003.8 480.5 L1002.2 472.5 L1001.9 467.0 L1002.5 462.5 L1003.8 457.5 L1005.5 454.3 L1008.5 450.3 L1012.5 447.3 L1016.5 446.6 L1019.0 445.2 L1020.5 444.9 L1023.5 447.0 L1025.6 450.0 L1028.2 452.5 L1034.0 452.4 L1036.0 452.9 L1039.1 452.5 L1039.0 454.5 L1036.5 455.2 L1035.3 457.5 L1035.1 461.0 L1037.0 463.8 L1041.0 463.3 L1043.0 460.6 L1044.5 459.9 L1045.5 460.4 L1046.2 462.0 L1045.8 463.0 L1043.3 464.0 L1042.0 466.3 L1040.4 467.0 L1039.3 469.0 L1036.5 469.5 L1035.3 470.5 L1036.7 473.0 L1035.2 478.5 L1033.0 480.2 L1032.0 482.6 L1027.0 487.5 L1022.3 496.5 L1018.5 516.0 L1016.5 519.8 Z"/>
<path d="M1053.5 450.5 L1052.5 450.8 L1051.5 449.8 L1049.0 449.0 L1050.0 448.3 L1051.5 448.8 L1053.5 448.3 L1054.1 449.0 L1053.5 450.5 Z"/>
<path d="M1045.0 454.1 L1043.0 454.2 L1041.0 452.2 L1039.9 452.0 L1039.5 449.2 L1042.0 450.8 L1046.5 451.0 L1046.9 452.5 L1045.0 454.1 Z"/>
<path d="M962.0 640.6 L1069.2 640.6"/>
<path d="M1003.6 582.9 L1010.0 597.0 L1016.4 611.4 L1023.6 620.0"/>
<path d="M1026.4 587.1 L1021.0 600.0 L1016.4 611.4 L1006.4 620.0"/>
</g>
<g class="w"><path d="M1162.8 125.3 L1166.2 123.7"/><path d="M1106.4 129.5 L1108.6 129.5"/><path d="M1143.7 75.0 L1141.3 75.0"/><path d="M1103.4 131.0 L1105.6 131.0"/><path d="M1050.6 90.7 L1049.4 92.3"/><path d="M1085.3 80.2 L1081.7 80.8"/><path d="M1089.3 121.5 L1094.7 121.5"/><path d="M1172.8 63.7 L1171.2 63.3"/><path d="M1186.8 106.5 L1189.2 102.5"/><path d="M1190.0 111.8 L1193.0 107.2"/><path d="M1172.5 81.3 L1169.5 78.7"/><path d="M1141.7 120.2 L1147.3 118.8"/><path d="M1041.4 114.9 L1045.6 117.1"/><path d="M1046.9 104.9 L1048.1 109.1"/><path d="M1188.3 116.3 L1191.7 111.7"/><path d="M1078.4 115.9 L1080.6 116.1"/><path d="M1123.6 123.1 L1125.4 122.9"/><path d="M1074.4 128.9 L1078.6 130.1"/><path d="M1172.6 134.2 L1178.4 132.8"/><path d="M1148.0 127.1 L1152.0 125.9"/><path d="M1174.3 120.5 L1175.7 119.5"/><path d="M1173.3 72.5 L1171.7 71.5"/><path d="M1174.0 105.9 L1176.0 103.1"/><path d="M1169.6 50.5 L1167.4 50.5"/><path d="M1132.8 125.0 L1138.2 124.0"/><path d="M1185.2 114.7 L1188.8 110.3"/><path d="M1101.7 122.5 L1106.3 122.5"/><path d="M1157.4 102.1 L1158.6 100.9"/><path d="M1082.8 126.3 L1087.2 126.7"/><path d="M1068.7 113.6 L1070.3 114.4"/><path d="M1162.5 120.5 L1166.5 118.5"/><path d="M1132.6 61.4 L1130.4 61.6"/><path d="M1079.0 84.0 L1076.0 85.0"/><path d="M1127.2 78.9 L1121.8 79.1"/><path d="M1145.3 78.6 L1143.7 78.4"/><path d="M1184.8 97.8 L1185.2 96.2"/><path d="M1182.5 63.2 L1177.5 60.8"/><path d="M1063.7 77.7 L1062.3 78.3"/><path d="M1028.5 107.1 L1028.5 110.9"/><path d="M1083.1 89.5 L1080.9 90.5"/><path d="M1100.4 82.2 L1095.6 82.8"/><path d="M1177.4 89.4 L1176.6 85.6"/><path d="M1060.9 86.7 L1058.1 89.3"/><path d="M1166.0 63.1 L1163.0 62.9"/><path d="M1155.5 123.5 L1159.5 123.5"/><path d="M1183.4 105.4 L1184.6 103.6"/><path d="M1074.3 116.7 L1076.7 117.3"/><path d="M1175.2 101.0 L1176.8 97.0"/><path d="M1157.0 65.9 L1153.0 65.1"/><path d="M1048.7 95.2 L1047.3 98.8"/><path d="M1176.9 54.3 L1174.1 53.7"/><path d="M1162.6 70.2 L1160.4 69.8"/><path d="M1135.2 130.2 L1136.8 129.8"/><path d="M1194.6 77.4 L1192.4 72.6"/><path d="M1155.2 109.7 L1159.8 107.3"/><path d="M1076.7 88.2 L1075.3 88.8"/><path d="M1163.6 133.8 L1165.4 133.2"/><path d="M1181.7 87.6 L1181.3 85.4"/><path d="M1156.6 140.0 L1158.4 139.0"/><path d="M1150.9 84.2 L1149.1 83.8"/><path d="M1044.6 100.0 L1044.4 104.0"/><path d="M1149.5 62.4 L1145.5 62.6"/><path d="M1140.5 75.9 L1135.5 76.1"/><path d="M1076.6 121.5 L1082.4 121.5"/><path d="M1068.1 92.0 L1066.9 93.0"/><path d="M1179.3 94.8 L1179.7 92.2"/><path d="M1192.2 102.2 L1192.8 100.8"/><path d="M1175.4 87.4 L1173.6 82.6"/><path d="M1078.6 131.9 L1080.4 132.1"/><path d="M1079.0 127.7 L1084.0 128.3"/><path d="M1182.5 97.0 L1183.5 92.0"/><path d="M1026.1 101.1 L1024.9 105.9"/><path d="M1115.2 126.2 L1118.8 125.8"/><path d="M1179.8 120.4 L1184.2 116.6"/><path d="M1163.9 66.0 L1159.1 66.0"/><path d="M1139.3 128.2 L1144.7 126.8"/><path d="M1159.7 124.6 L1162.3 123.4"/><path d="M1146.1 58.8 L1140.9 59.2"/><path d="M1147.8 54.4 L1145.2 54.6"/><path d="M1160.4 50.2 L1154.6 50.8"/><path d="M1097.2 127.6 L1101.8 127.4"/><path d="M1171.1 60.2 L1167.9 59.8"/><path d="M1116.6 133.0 L1119.4 132.0"/><path d="M1138.3 50.3 L1133.7 50.7"/><path d="M1108.6 124.6 L1113.4 124.4"/><path d="M1160.4 56.0 L1157.6 56.0"/><path d="M1090.2 116.1 L1093.8 115.9"/><path d="M1175.9 117.5 L1177.1 116.5"/><path d="M1083.2 117.8 L1088.8 118.2"/><path d="M1033.9 110.4 L1036.1 115.6"/><path d="M1135.0 137.0 L1137.0 136.0"/><path d="M1159.1 88.8 L1154.9 86.2"/><path d="M1106.5 86.4 L1102.5 86.6"/><path d="M1121.2 81.3 L1116.8 81.7"/><path d="M1168.1 122.0 L1169.9 121.0"/><path d="M1067.3 98.2 L1065.7 100.8"/><path d="M1139.6 82.0 L1137.4 82.0"/><path d="M1185.7 67.1 L1184.3 65.9"/><path d="M1156.7 61.5 L1154.3 61.5"/><path d="M1109.7 114.6 L1115.3 113.4"/><path d="M1070.2 83.0 L1066.8 84.0"/><path d="M1184.6 103.4 L1187.4 98.6"/><path d="M1096.6 131.5 L1101.4 131.5"/><path d="M1160.2 64.1 L1155.8 63.9"/><path d="M1144.7 107.2 L1146.3 106.8"/><path d="M1088.2 132.5 L1089.8 132.5"/><path d="M1183.4 92.5 L1183.6 88.5"/><path d="M1144.6 52.4 L1141.4 52.6"/><path d="M1072.8 92.0 L1071.2 93.0"/><path d="M1169.6 114.2 L1172.4 111.8"/><path d="M1151.0 107.2 L1155.0 105.8"/><path d="M1106.6 80.4 L1104.4 80.6"/><path d="M1023.9 113.9 L1024.1 117.1"/><path d="M1089.5 83.5 L1084.5 84.5"/><path d="M1073.4 82.4 L1070.6 83.6"/><path d="M1048.9 83.7 L1047.1 85.3"/><path d="M1178.2 114.7 L1179.8 113.3"/><path d="M1189.5 79.3 L1188.5 76.7"/><path d="M1043.3 110.5 L1046.7 114.5"/><path d="M1155.9 56.4 L1151.1 56.6"/><path d="M1176.0 92.6 L1176.0 89.4"/><path d="M1069.9 118.1 L1072.1 118.9"/><path d="M1113.2 120.1 L1114.8 119.9"/><path d="M1194.1 98.8 L1194.9 96.2"/><path d="M1095.4 120.2 L1100.6 119.8"/><path d="M1105.8 76.3 L1103.2 77.7"/><path d="M1133.6 119.6 L1137.4 117.4"/><path d="M1131.7 79.0 L1129.3 79.0"/><path d="M1171.1 66.0 L1168.9 66.0"/><path d="M1139.3 57.5 L1137.7 57.5"/><path d="M978.4 620.2 L977.6 624.8"/><path d="M979.6 612.6 L979.4 617.4"/><path d="M996.1 516.2 L996.9 519.8"/><path d="M980.9 496.5 L981.1 498.5"/><path d="M975.0 554.2 L975.0 555.8"/><path d="M990.3 538.0 L990.7 541.0"/><path d="M994.4 495.3 L994.6 496.7"/><path d="M987.9 485.6 L988.1 488.4"/><path d="M999.0 447.7 L998.0 450.3"/><path d="M1100.5 488.2 L1101.5 486.8"/><path d="M972.4 538.8 L972.6 543.2"/><path d="M1050.6 642.9 L1050.4 638.1"/><path d="M984.2 622.2 L983.8 626.8"/><path d="M992.3 449.5 L991.7 452.5"/><path d="M987.1 587.0 L986.9 589.0"/><path d="M982.7 636.3 L982.3 640.7"/><path d="M992.5 428.3 L989.5 431.7"/><path d="M982.3 446.7 L981.7 448.3"/><path d="M1000.4 520.4 L1001.6 523.6"/><path d="M973.0 534.6 L973.0 538.4"/><path d="M985.8 535.6 L986.2 539.4"/><path d="M984.6 581.6 L984.4 585.4"/><path d="M991.5 505.7 L993.5 509.3"/><path d="M986.0 574.7 L986.0 578.3"/><path d="M1036.4 631.8 L1033.6 630.2"/><path d="M984.4 478.3 L984.6 480.7"/><path d="M982.7 517.7 L983.3 521.3"/><path d="M981.0 465.6 L981.0 468.4"/><path d="M975.0 490.5 L975.0 492.5"/><path d="M981.8 538.2 L982.2 542.8"/><path d="M1042.6 634.8 L1040.4 633.2"/><path d="M979.7 634.7 L979.3 637.3"/><path d="M1051.3 417.9 L1048.7 415.1"/><path d="M982.1 417.8 L980.9 421.2"/><path d="M984.2 442.6 L983.8 444.4"/><path d="M989.4 409.7 L986.6 413.3"/><path d="M993.9 473.6 L994.1 475.4"/><path d="M1041.7 627.5 L1040.3 626.5"/><path d="M992.3 479.9 L992.7 484.1"/><path d="M1063.4 435.4 L1061.6 433.6"/><path d="M974.0 558.3 L974.0 561.7"/><path d="M993.0 462.0 L993.0 464.0"/><path d="M985.3 630.9 L984.7 634.1"/><path d="M994.8 485.1 L995.2 488.9"/><path d="M987.5 447.6 L987.5 452.4"/><path d="M997.5 500.3 L998.5 504.7"/><path d="M986.2 467.7 L986.8 471.3"/><path d="M1053.8 634.4 L1053.2 632.6"/><path d="M978.8 503.2 L979.2 507.8"/><path d="M994.4 490.3 L994.6 491.7"/><path d="M978.5 441.2 L977.5 445.8"/><path d="M1051.9 437.6 L1048.1 436.4"/><path d="M984.6 619.4 L984.4 622.6"/><path d="M998.8 418.4 L997.2 419.6"/><path d="M1059.0 426.9 L1056.0 424.1"/><path d="M982.4 574.0 L982.6 577.0"/><path d="M984.3 543.6 L984.7 548.4"/><path d="M979.8 424.3 L978.2 428.7"/><path d="M974.7 441.2 L974.3 442.8"/><path d="M989.1 452.7 L988.9 454.3"/></g>
<g class="wdot"><path d="M1071.0 76.0 L1073.0 76.0"/><path d="M1075.0 70.0 L1077.0 70.0"/><path d="M1075.0 82.0 L1077.0 82.0"/><path d="M1068.0 64.0 L1072.0 64.0"/><path d="M1088.0 80.0 L1092.0 80.0"/><path d="M1041.0 80.0 L1043.0 80.0"/><path d="M1045.0 84.0 L1047.0 84.0"/><path d="M1059.0 78.0 L1061.0 78.0"/><path d="M1087.0 84.0 L1089.0 84.0"/><path d="M1059.0 84.0 L1061.0 84.0"/><path d="M1071.0 60.0 L1073.0 60.0"/><path d="M1089.0 76.0 L1091.0 76.0"/><path d="M1085.0 64.0 L1087.0 64.0"/><path d="M1065.0 80.0 L1067.0 80.0"/><path d="M1052.0 74.0 L1056.0 74.0"/><path d="M1083.0 74.0 L1085.0 74.0"/><path d="M1087.0 68.0 L1089.0 68.0"/><path d="M1039.0 88.0 L1041.0 88.0"/><path d="M1067.0 76.0 L1069.0 76.0"/><path d="M1039.0 92.0 L1041.0 92.0"/><path d="M1046.0 98.0 L1050.0 98.0"/><path d="M1093.0 84.0 L1095.0 84.0"/><path d="M1075.0 64.0 L1077.0 64.0"/><path d="M1081.0 68.0 L1083.0 68.0"/><path d="M1051.0 70.0 L1053.0 70.0"/><path d="M1051.0 86.0 L1053.0 86.0"/><path d="M1090.0 66.0 L1094.0 66.0"/><path d="M1081.0 60.0 L1083.0 60.0"/><path d="M1065.0 66.0 L1067.0 66.0"/><path d="M1046.0 78.0 L1050.0 78.0"/><path d="M1065.0 90.0 L1067.0 90.0"/><path d="M1043.0 88.0 L1045.0 88.0"/><path d="M1048.0 74.0 L1052.0 74.0"/><path d="M1081.0 80.0 L1083.0 80.0"/><path d="M1062.0 84.0 L1066.0 84.0"/><path d="M1058.0 66.0 L1062.0 66.0"/><path d="M1087.0 72.0 L1089.0 72.0"/><path d="M1048.0 92.0 L1052.0 92.0"/><path d="M1074.0 76.0 L1078.0 76.0"/><path d="M1052.0 94.0 L1056.0 94.0"/><path d="M1071.0 70.0 L1073.0 70.0"/><path d="M1068.0 86.0 L1072.0 86.0"/><path d="M1094.0 74.0 L1098.0 74.0"/><path d="M1060.0 72.0 L1064.0 72.0"/><path d="M1041.0 100.0 L1043.0 100.0"/><path d="M1056.0 70.0 L1060.0 70.0"/><path d="M1055.0 84.0 L1057.0 84.0"/><path d="M1071.0 82.0 L1073.0 82.0"/><path d="M1054.0 80.0 L1058.0 80.0"/><path d="M1087.0 58.0 L1089.0 58.0"/><path d="M1097.0 82.0 L1099.0 82.0"/><path d="M1079.0 84.0 L1081.0 84.0"/><path d="M1057.0 88.0 L1059.0 88.0"/><path d="M1094.0 78.0 L1098.0 78.0"/><path d="M1095.0 64.0 L1097.0 64.0"/><path d="M1079.0 74.0 L1081.0 74.0"/><path d="M1041.0 96.0 L1043.0 96.0"/><path d="M1067.0 70.0 L1069.0 70.0"/><path d="M1095.0 70.0 L1097.0 70.0"/><path d="M1091.0 70.0 L1093.0 70.0"/><path d="M1083.0 84.0 L1085.0 84.0"/><path d="M1091.0 58.0 L1093.0 58.0"/><path d="M1039.0 84.0 L1041.0 84.0"/><path d="M1045.0 102.0 L1047.0 102.0"/><path d="M1049.0 82.0 L1051.0 82.0"/><path d="M1061.0 88.0 L1063.0 88.0"/><path d="M1085.0 78.0 L1087.0 78.0"/><path d="M1045.0 92.0 L1047.0 92.0"/><path d="M1057.0 92.0 L1059.0 92.0"/><path d="M1056.0 74.0 L1060.0 74.0"/><path d="M1189.0 108.0 L1191.0 108.0"/><path d="M1188.0 124.0 L1192.0 124.0"/><path d="M1195.0 74.0 L1197.0 74.0"/><path d="M1191.0 54.0 L1193.0 54.0"/><path d="M1177.0 108.0 L1179.0 108.0"/><path d="M1201.0 76.0 L1203.0 76.0"/><path d="M1182.0 126.0 L1186.0 126.0"/><path d="M1203.0 82.0 L1205.0 82.0"/><path d="M1195.0 96.0 L1197.0 96.0"/><path d="M1187.0 74.0 L1189.0 74.0"/><path d="M1185.0 120.0 L1187.0 120.0"/><path d="M1185.0 68.0 L1187.0 68.0"/><path d="M1189.0 58.0 L1191.0 58.0"/><path d="M1180.0 108.0 L1184.0 108.0"/><path d="M1197.0 108.0 L1199.0 108.0"/><path d="M1195.0 80.0 L1197.0 80.0"/><path d="M1209.0 70.0 L1211.0 70.0"/><path d="M1187.0 100.0 L1189.0 100.0"/><path d="M1173.0 128.0 L1175.0 128.0"/><path d="M1176.0 126.0 L1180.0 126.0"/><path d="M1198.0 90.0 L1202.0 90.0"/><path d="M1198.0 104.0 L1202.0 104.0"/><path d="M1189.0 68.0 L1191.0 68.0"/><path d="M1198.0 114.0 L1202.0 114.0"/><path d="M1203.0 96.0 L1205.0 96.0"/><path d="M1172.0 58.0 L1176.0 58.0"/><path d="M1195.0 64.0 L1197.0 64.0"/><path d="M1185.0 58.0 L1187.0 58.0"/><path d="M1189.0 118.0 L1191.0 118.0"/><path d="M1207.0 80.0 L1209.0 80.0"/><path d="M1204.0 76.0 L1208.0 76.0"/><path d="M1203.0 110.0 L1205.0 110.0"/><path d="M1199.0 64.0 L1201.0 64.0"/><path d="M1170.0 122.0 L1174.0 122.0"/><path d="M1176.0 118.0 L1180.0 118.0"/><path d="M1185.0 96.0 L1187.0 96.0"/><path d="M1200.0 70.0 L1204.0 70.0"/><path d="M1198.0 80.0 L1202.0 80.0"/><path d="M1188.0 64.0 L1192.0 64.0"/><path d="M1167.0 122.0 L1169.0 122.0"/><path d="M1195.0 116.0 L1197.0 116.0"/><path d="M1197.0 84.0 L1199.0 84.0"/><path d="M1185.0 82.0 L1187.0 82.0"/><path d="M1176.0 64.0 L1180.0 64.0"/><path d="M1191.0 100.0 L1193.0 100.0"/><path d="M1192.0 90.0 L1196.0 90.0"/><path d="M1173.0 118.0 L1175.0 118.0"/><path d="M1205.0 106.0 L1207.0 106.0"/><path d="M1180.0 56.0 L1184.0 56.0"/><path d="M1187.0 92.0 L1189.0 92.0"/><path d="M1197.0 60.0 L1199.0 60.0"/><path d="M1183.0 112.0 L1185.0 112.0"/><path d="M1179.0 112.0 L1181.0 112.0"/><path d="M1198.0 98.0 L1202.0 98.0"/><path d="M1183.0 102.0 L1185.0 102.0"/><path d="M1182.0 64.0 L1186.0 64.0"/><path d="M1208.0 86.0 L1212.0 86.0"/><path d="M1194.0 112.0 L1198.0 112.0"/><path d="M1207.0 96.0 L1209.0 96.0"/><path d="M1193.0 106.0 L1195.0 106.0"/><path d="M1172.0 114.0 L1176.0 114.0"/><path d="M1192.0 70.0 L1196.0 70.0"/><path d="M1203.0 66.0 L1205.0 66.0"/><path d="M1171.0 54.0 L1173.0 54.0"/><path d="M1186.0 86.0 L1190.0 86.0"/><path d="M1189.0 96.0 L1191.0 96.0"/><path d="M1207.0 102.0 L1209.0 102.0"/><path d="M1203.0 90.0 L1205.0 90.0"/><path d="M1184.0 108.0 L1188.0 108.0"/><path d="M1195.0 102.0 L1197.0 102.0"/><path d="M1115.0 130.0 L1117.0 130.0"/><path d="M1165.0 120.0 L1167.0 120.0"/><path d="M1155.0 120.0 L1157.0 120.0"/><path d="M1111.0 130.0 L1113.0 130.0"/><path d="M1129.0 114.0 L1131.0 114.0"/><path d="M1141.0 122.0 L1143.0 122.0"/><path d="M1119.0 114.0 L1121.0 114.0"/><path d="M1112.0 126.0 L1116.0 126.0"/><path d="M1101.0 122.0 L1103.0 122.0"/><path d="M1136.0 124.0 L1140.0 124.0"/><path d="M1168.0 118.0 L1172.0 118.0"/><path d="M1139.0 128.0 L1141.0 128.0"/><path d="M1106.0 114.0 L1110.0 114.0"/><path d="M1145.0 128.0 L1147.0 128.0"/><path d="M1159.0 108.0 L1161.0 108.0"/><path d="M1113.0 116.0 L1115.0 116.0"/><path d="M1157.0 116.0 L1159.0 116.0"/><path d="M1107.0 130.0 L1109.0 130.0"/><path d="M1135.0 132.0 L1137.0 132.0"/><path d="M1106.0 120.0 L1110.0 120.0"/><path d="M1136.0 118.0 L1140.0 118.0"/><path d="M1149.0 116.0 L1151.0 116.0"/><path d="M1129.0 132.0 L1131.0 132.0"/><path d="M1146.0 132.0 L1150.0 132.0"/><path d="M1154.0 128.0 L1158.0 128.0"/><path d="M1000.0 436.0 L1004.0 436.0"/><path d="M985.0 426.0 L987.0 426.0"/><path d="M995.0 440.0 L997.0 440.0"/><path d="M997.0 446.0 L999.0 446.0"/><path d="M998.0 440.0 L1002.0 440.0"/><path d="M998.0 422.0 L1002.0 422.0"/><path d="M998.0 456.0 L1002.0 456.0"/><path d="M994.0 426.0 L998.0 426.0"/><path d="M990.0 430.0 L994.0 430.0"/><path d="M996.0 450.0 L1000.0 450.0"/><path d="M988.0 440.0 L992.0 440.0"/><path d="M991.0 456.0 L993.0 456.0"/><path d="M987.0 444.0 L989.0 444.0"/><path d="M997.0 430.0 L999.0 430.0"/></g>
<g class="wd"><path d="M969.3 452.0 L969.3 545.0"/><path d="M980.0 436.0 L980.0 540.0"/><path d="M990.0 428.0 L990.0 535.0"/><path d="M998.0 470.0 L996.0 530.0"/></g>
<g class="g"><path d="M1049.0 80.0 L1033.0 88.0 L1040.0 94.0"/><path d="M1060.0 84.0 L1046.0 91.0 L1052.0 96.0"/><path d="M1070.0 88.0 L1058.0 93.0"/><path d="M1087.0 90.0 L1100.0 88.0 L1112.0 91.0"/><path d="M1054.0 116.0 L1064.0 121.0 L1072.0 125.0"/><path d="M1029.0 137.0 L1032.0 152.0"/><path d="M1158.0 88.0 L1166.0 92.0 L1170.0 103.0"/><path d="M1175.0 100.0 L1186.0 106.0"/><path d="M1180.0 113.0 L1190.0 124.0 L1198.0 133.0" style="stroke-width:8"/><path d="M1186.0 121.0 L1200.0 116.0" style="stroke-width:7"/><path d="M1197.0 60.0 L1201.0 69.0"/><path d="M1130.0 139.0 L1140.0 137.0"/><path d="M1017.0 231.0 L1022.0 236.0"/><path d="M991.0 411.0 L998.0 397.0" style="stroke-width:9"/><path d="M994.0 407.0 L1004.0 410.0" style="stroke-width:8"/><path d="M995.0 428.0 L1004.0 436.0 L1010.0 430.0"/><path d="M1005.0 452.0 L1009.0 457.0"/><path d="M1042.0 433.0 L1052.0 427.0 L1062.0 436.0" style="stroke-width:8"/><path d="M1050.0 471.0 L1058.0 467.0 L1066.0 478.0" style="stroke-width:8"/><path d="M1006.0 486.0 L1018.0 488.0"/><path d="M1028.0 480.0 L1046.0 484.0"/><path d="M1030.0 468.0 L1040.0 474.0"/><path d="M1024.0 512.0 L1032.0 520.0 L1040.0 526.0"/><path d="M1056.0 514.0 L1062.0 526.0"/><path d="M1082.0 514.0 L1088.0 523.0"/><path d="M1029.0 573.0 L1034.0 579.0"/><path d="M1063.0 556.0 L1067.0 565.0"/><path d="M991.0 590.0 L997.0 596.0 L1003.0 592.0"/><path d="M983.0 622.0 L990.0 630.0 L995.0 624.0"/><path d="M1000.0 630.0 L1008.0 634.0 L1014.0 629.0"/><path d="M1024.0 627.0 L1032.0 632.0 L1042.0 627.0"/><path d="M1046.0 634.0 L1052.0 630.0"/><path d="M1000.0 560.0 L1004.0 566.0"/><path d="M1070.0 486.0 L1075.0 492.0"/><path d="M1003.0 479.0 L1010.0 489.0"/><path d="M1020.0 481.0 L1040.0 483.0 L1060.0 482.0"/><path d="M1024.0 491.0 L1046.0 491.0"/><path d="M1034.0 506.0 L1046.0 511.0"/><path d="M1052.0 519.0 L1066.0 525.0"/><path d="M1022.0 520.0 L1029.0 529.0"/><path d="M1002.0 527.0 L1008.0 530.0"/><path d="M994.0 547.0 L998.0 549.0"/></g>
</g>
<g id="right" transform="translate(779.5,0)">
<g stroke="#000" stroke-width="2.2" stroke-linecap="round" fill="none">
<rect x="174.0" y="27.7" width="620.3" height="620.0"/>
<line x1="158.6" y1="85.4" x2="174.0" y2="85.4"/>
<line x1="158.6" y1="222.3" x2="174.0" y2="222.3"/>
<line x1="158.6" y1="366.6" x2="174.0" y2="366.6"/>
<line x1="158.6" y1="515.5" x2="174.0" y2="515.5"/>
<line x1="158.6" y1="580.5" x2="174.0" y2="580.5"/>
<line x1="158.6" y1="587.7" x2="174.0" y2="587.7"/>
<line x1="158.6" y1="642.9" x2="174.0" y2="642.9"/>
<line x1="163.3" y1="126.4" x2="174.0" y2="126.4"/>
<line x1="163.3" y1="265.6" x2="174.0" y2="265.6"/>
<line x1="163.3" y1="412.3" x2="174.0" y2="412.3"/>
<line x1="163.3" y1="546.8" x2="174.0" y2="546.8"/>
<line x1="163.3" y1="614.3" x2="174.0" y2="614.3"/>
<line x1="168.3" y1="41.9" x2="174.0" y2="41.9"/>
<line x1="168.3" y1="90.4" x2="174.0" y2="90.4"/>
<line x1="168.3" y1="97.3" x2="174.0" y2="97.3"/>
<line x1="168.3" y1="107.3" x2="174.0" y2="107.3"/>
<line x1="168.3" y1="114.4" x2="174.0" y2="114.4"/>
<line x1="168.3" y1="140.4" x2="174.0" y2="140.4"/>
<line x1="168.3" y1="157.7" x2="174.0" y2="157.7"/>
<line x1="168.3" y1="181.7" x2="174.0" y2="181.7"/>
<line x1="168.3" y1="229.5" x2="174.0" y2="229.5"/>
<line x1="168.3" y1="236.4" x2="174.0" y2="236.4"/>
<line x1="168.3" y1="243.3" x2="174.0" y2="243.3"/>
<line x1="168.3" y1="253.7" x2="174.0" y2="253.7"/>
<line x1="168.3" y1="279.7" x2="174.0" y2="279.7"/>
<line x1="168.3" y1="296.8" x2="174.0" y2="296.8"/>
<line x1="168.3" y1="320.5" x2="174.0" y2="320.5"/>
<line x1="168.3" y1="373.8" x2="174.0" y2="373.8"/>
<line x1="168.3" y1="381.2" x2="174.0" y2="381.2"/>
<line x1="168.3" y1="388.7" x2="174.0" y2="388.7"/>
<line x1="168.3" y1="399.8" x2="174.0" y2="399.8"/>
<line x1="168.3" y1="427.0" x2="174.0" y2="427.0"/>
<line x1="168.3" y1="446.1" x2="174.0" y2="446.1"/>
<line x1="168.3" y1="475.1" x2="174.0" y2="475.1"/>
<line x1="168.3" y1="522.3" x2="174.0" y2="522.3"/>
<line x1="168.3" y1="526.8" x2="174.0" y2="526.8"/>
<line x1="168.3" y1="531.8" x2="174.0" y2="531.8"/>
<line x1="168.3" y1="539.5" x2="174.0" y2="539.5"/>
<line x1="168.3" y1="551.9" x2="174.0" y2="551.9"/>
<line x1="168.3" y1="559.0" x2="174.0" y2="559.0"/>
<line x1="168.3" y1="594.1" x2="174.0" y2="594.1"/>
<line x1="168.3" y1="599.2" x2="174.0" y2="599.2"/>
<line x1="168.3" y1="606.8" x2="174.0" y2="606.8"/>
<line x1="168.3" y1="620.3" x2="174.0" y2="620.3"/>
<line x1="168.3" y1="625.0" x2="174.0" y2="625.0"/>
<line x1="168.3" y1="632.7" x2="174.0" y2="632.7"/>
<line x1="168.3" y1="637.3" x2="174.0" y2="637.3"/>
<line x1="174.0" y1="647.7" x2="174.0" y2="664.5"/>
<line x1="195.5" y1="647.7" x2="195.5" y2="655.5"/>
<line x1="219.6" y1="647.7" x2="219.6" y2="655.5"/>
<line x1="243.7" y1="647.7" x2="243.7" y2="655.5"/>
<line x1="267.5" y1="647.7" x2="267.5" y2="655.5"/>
<line x1="291.3" y1="647.7" x2="291.3" y2="664.5"/>
<line x1="315.7" y1="647.7" x2="315.7" y2="655.5"/>
<line x1="339.6" y1="647.7" x2="339.6" y2="655.5"/>
<line x1="363.9" y1="647.7" x2="363.9" y2="655.5"/>
<line x1="385.4" y1="647.7" x2="385.4" y2="655.5"/>
<line x1="409.5" y1="647.7" x2="409.5" y2="664.5"/>
<line x1="433.4" y1="647.7" x2="433.4" y2="655.5"/>
<line x1="457.6" y1="647.7" x2="457.6" y2="655.5"/>
<line x1="481.5" y1="647.7" x2="481.5" y2="655.5"/>
<line x1="505.6" y1="647.7" x2="505.6" y2="655.5"/>
<line x1="529.6" y1="647.7" x2="529.6" y2="664.5"/>
<line x1="553.5" y1="647.7" x2="553.5" y2="655.5"/>
<line x1="575.2" y1="647.7" x2="575.2" y2="655.5"/>
<line x1="599.4" y1="647.7" x2="599.4" y2="655.5"/>
<line x1="623.3" y1="647.7" x2="623.3" y2="655.5"/>
<line x1="647.4" y1="647.7" x2="647.4" y2="664.5"/>
<line x1="671.5" y1="647.7" x2="671.5" y2="655.5"/>
<line x1="695.4" y1="647.7" x2="695.4" y2="655.5"/>
<line x1="719.4" y1="647.7" x2="719.4" y2="655.5"/>
<line x1="743.3" y1="647.7" x2="743.3" y2="655.5"/>
<line x1="765.0" y1="647.7" x2="765.0" y2="664.5"/>
<line x1="789.2" y1="647.7" x2="789.2" y2="655.5"/>
</g>
<path d="M158.6 580.5 L163 581.5 L164 584 L168 586 L158.6 587.7 L174 588.5 L174 579.8 Z" fill="#000" stroke="#000" stroke-width="1.5" stroke-linejoin="round"/>
<g class="t">
<text x="174.0" y="706.6" text-anchor="middle">0</text>
<text x="291.3" y="706.6" text-anchor="middle">50K</text>
<text x="409.5" y="706.6" text-anchor="middle">100K</text>
<text x="529.6" y="706.6" text-anchor="middle">150K</text>
<text x="647.4" y="706.6" text-anchor="middle">200K</text>
<text x="765.0" y="706.6" text-anchor="middle">250K</text>
<text x="482.8" y="737.6" text-anchor="middle">Side Scatter (SSC)</text>
<text x="133.2" y="96.2" text-anchor="end">10</text>
<text class="sup" x="133.2" y="82.0">5</text>
<text x="133.2" y="233.1" text-anchor="end">10</text>
<text class="sup" x="133.2" y="218.9">4</text>
<text x="133.2" y="377.4" text-anchor="end">10</text>
<text class="sup" x="133.2" y="363.2">3</text>
<text x="133.2" y="526.3" text-anchor="end">10</text>
<text class="sup" x="133.2" y="512.1">2</text>
<text x="147.6" y="590.9" text-anchor="end">0</text>
<text transform="translate(86.3,337.8) rotate(-90)" text-anchor="middle" textLength="234" lengthAdjust="spacing">V450 Ly-6G/Ly-6C</text>
</g>
</g>
</svg>
</body></html>
